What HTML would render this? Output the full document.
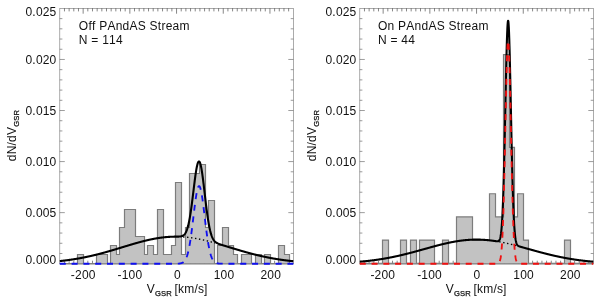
<!DOCTYPE html>
<html><head><meta charset="utf-8"><title>Velocity histograms</title>
<style>
html,body{margin:0;padding:0;background:#fff;}
svg{display:block;font-kerning:none;letter-spacing:0.2px;will-change:transform;font-family:"Liberation Sans",sans-serif;}
</style></head><body>
<svg width="599" height="300" viewBox="0 0 599 300">
<rect width="599" height="300" fill="#fff"/>
<g stroke="#000" stroke-width="0.6" fill="none" stroke-opacity="0.55"><rect x="59.80" y="8.40" width="233.50" height="255.30" fill="none"/><path d="M64.47 8.40 v3.00 M64.47 263.70 v-3.00 M69.14 8.40 v3.00 M69.14 263.70 v-3.00 M73.81 8.40 v3.00 M73.81 263.70 v-3.00 M78.48 8.40 v3.00 M78.48 263.70 v-3.00 M83.15 8.40 v5.30 M83.15 263.70 v-5.30 M87.82 8.40 v3.00 M87.82 263.70 v-3.00 M92.49 8.40 v3.00 M92.49 263.70 v-3.00 M97.16 8.40 v3.00 M97.16 263.70 v-3.00 M101.83 8.40 v3.00 M101.83 263.70 v-3.00 M106.50 8.40 v3.00 M106.50 263.70 v-3.00 M111.17 8.40 v3.00 M111.17 263.70 v-3.00 M115.84 8.40 v3.00 M115.84 263.70 v-3.00 M120.51 8.40 v3.00 M120.51 263.70 v-3.00 M125.18 8.40 v3.00 M125.18 263.70 v-3.00 M129.85 8.40 v5.30 M129.85 263.70 v-5.30 M134.52 8.40 v3.00 M134.52 263.70 v-3.00 M139.19 8.40 v3.00 M139.19 263.70 v-3.00 M143.86 8.40 v3.00 M143.86 263.70 v-3.00 M148.53 8.40 v3.00 M148.53 263.70 v-3.00 M153.20 8.40 v3.00 M153.20 263.70 v-3.00 M157.87 8.40 v3.00 M157.87 263.70 v-3.00 M162.54 8.40 v3.00 M162.54 263.70 v-3.00 M167.21 8.40 v3.00 M167.21 263.70 v-3.00 M171.88 8.40 v3.00 M171.88 263.70 v-3.00 M176.55 8.40 v5.30 M176.55 263.70 v-5.30 M181.22 8.40 v3.00 M181.22 263.70 v-3.00 M185.89 8.40 v3.00 M185.89 263.70 v-3.00 M190.56 8.40 v3.00 M190.56 263.70 v-3.00 M195.23 8.40 v3.00 M195.23 263.70 v-3.00 M199.90 8.40 v3.00 M199.90 263.70 v-3.00 M204.57 8.40 v3.00 M204.57 263.70 v-3.00 M209.24 8.40 v3.00 M209.24 263.70 v-3.00 M213.91 8.40 v3.00 M213.91 263.70 v-3.00 M218.58 8.40 v3.00 M218.58 263.70 v-3.00 M223.25 8.40 v5.30 M223.25 263.70 v-5.30 M227.92 8.40 v3.00 M227.92 263.70 v-3.00 M232.59 8.40 v3.00 M232.59 263.70 v-3.00 M237.26 8.40 v3.00 M237.26 263.70 v-3.00 M241.93 8.40 v3.00 M241.93 263.70 v-3.00 M246.60 8.40 v3.00 M246.60 263.70 v-3.00 M251.27 8.40 v3.00 M251.27 263.70 v-3.00 M255.94 8.40 v3.00 M255.94 263.70 v-3.00 M260.61 8.40 v3.00 M260.61 263.70 v-3.00 M265.28 8.40 v3.00 M265.28 263.70 v-3.00 M269.95 8.40 v5.30 M269.95 263.70 v-5.30 M274.62 8.40 v3.00 M274.62 263.70 v-3.00 M279.29 8.40 v3.00 M279.29 263.70 v-3.00 M283.96 8.40 v3.00 M283.96 263.70 v-3.00 M288.63 8.40 v3.00 M288.63 263.70 v-3.00" stroke-opacity="0.8"/><path d="M59.80 253.49 h2.60 M293.30 253.49 h-2.60 M59.80 243.28 h2.60 M293.30 243.28 h-2.60 M59.80 233.06 h2.60 M293.30 233.06 h-2.60 M59.80 222.85 h2.60 M293.30 222.85 h-2.60 M59.80 212.64 h5.00 M293.30 212.64 h-5.00 M59.80 202.43 h2.60 M293.30 202.43 h-2.60 M59.80 192.22 h2.60 M293.30 192.22 h-2.60 M59.80 182.00 h2.60 M293.30 182.00 h-2.60 M59.80 171.79 h2.60 M293.30 171.79 h-2.60 M59.80 161.58 h5.00 M293.30 161.58 h-5.00 M59.80 151.37 h2.60 M293.30 151.37 h-2.60 M59.80 141.16 h2.60 M293.30 141.16 h-2.60 M59.80 130.94 h2.60 M293.30 130.94 h-2.60 M59.80 120.73 h2.60 M293.30 120.73 h-2.60 M59.80 110.52 h5.00 M293.30 110.52 h-5.00 M59.80 100.31 h2.60 M293.30 100.31 h-2.60 M59.80 90.10 h2.60 M293.30 90.10 h-2.60 M59.80 79.88 h2.60 M293.30 79.88 h-2.60 M59.80 69.67 h2.60 M293.30 69.67 h-2.60 M59.80 59.46 h5.00 M293.30 59.46 h-5.00 M59.80 49.25 h2.60 M293.30 49.25 h-2.60 M59.80 39.04 h2.60 M293.30 39.04 h-2.60 M59.80 28.82 h2.60 M293.30 28.82 h-2.60 M59.80 18.61 h2.60 M293.30 18.61 h-2.60" stroke-opacity="0.65"/></g><path d="M77.50 263.70 L77.50 254.50 L83.50 254.50 L83.50 263.70Z M96.50 263.70 L96.50 254.50 L107.50 254.50 L107.50 263.70Z M110.50 263.70 L110.50 245.50 L116.50 245.50 L116.50 254.50 L119.50 254.50 L119.50 227.50 L124.50 227.50 L124.50 209.50 L135.50 209.50 L135.50 236.50 L144.50 236.50 L144.50 254.50 L147.50 254.50 L147.50 245.50 L153.50 245.50 L153.50 254.50 L157.50 254.50 L157.50 209.50 L163.50 209.50 L163.50 254.50 L171.50 254.50 L171.50 245.50 L175.50 245.50 L175.50 182.50 L181.50 182.50 L181.50 254.50 L185.50 254.50 L185.50 227.50 L189.50 227.50 L189.50 173.50 L199.50 173.50 L199.50 164.50 L205.50 164.50 L205.50 227.50 L208.50 227.50 L208.50 200.50 L214.50 200.50 L214.50 263.70Z M217.50 263.70 L217.50 245.50 L222.50 245.50 L222.50 227.50 L228.50 227.50 L228.50 245.50 L233.50 245.50 L233.50 254.50 L237.50 254.50 L237.50 263.70Z M241.50 263.70 L241.50 254.50 L251.50 254.50 L251.50 263.70Z M255.50 263.70 L255.50 254.50 L261.50 254.50 L261.50 263.70Z M264.50 263.70 L264.50 254.50 L270.50 254.50 L270.50 263.70Z M278.50 263.70 L278.50 245.50 L284.50 245.50 L284.50 254.50 L289.50 254.50 L289.50 263.70Z" fill="#c2c2c2" stroke="none"/><path d="M59.80 263.50 L77.50 263.50 L77.50 254.50 L83.50 254.50 L83.50 263.50 L96.50 263.50 L96.50 254.50 L107.50 254.50 L107.50 263.50 L110.50 263.50 L110.50 245.50 L116.50 245.50 L116.50 254.50 L119.50 254.50 L119.50 227.50 L124.50 227.50 L124.50 209.50 L135.50 209.50 L135.50 236.50 L144.50 236.50 L144.50 254.50 L147.50 254.50 L147.50 245.50 L153.50 245.50 L153.50 254.50 L157.50 254.50 L157.50 209.50 L163.50 209.50 L163.50 254.50 L171.50 254.50 L171.50 245.50 L175.50 245.50 L175.50 182.50 L181.50 182.50 L181.50 254.50 L185.50 254.50 L185.50 227.50 L189.50 227.50 L189.50 173.50 L199.50 173.50 L199.50 164.50 L205.50 164.50 L205.50 227.50 L208.50 227.50 L208.50 200.50 L214.50 200.50 L214.50 263.50 L217.50 263.50 L217.50 245.50 L222.50 245.50 L222.50 227.50 L228.50 227.50 L228.50 245.50 L233.50 245.50 L233.50 254.50 L237.50 254.50 L237.50 263.50 L241.50 263.50 L241.50 254.50 L251.50 254.50 L251.50 263.50 L255.50 263.50 L255.50 254.50 L261.50 254.50 L261.50 263.50 L264.50 263.50 L264.50 254.50 L270.50 254.50 L270.50 263.50 L278.50 263.50 L278.50 245.50 L284.50 245.50 L284.50 254.50 L289.50 254.50 L289.50 263.50 L293.30 263.50" fill="none" stroke="#7c7c7c" stroke-width="1.2" stroke-linejoin="miter"/><path d="M59.80 263.9 H293.30" stroke="#808080" stroke-width="1.1"/><path d="M59.80 261.08 L60.03 261.06 L60.27 261.03 L60.50 261.01 L60.73 260.98 L60.97 260.96 L61.20 260.93 L61.43 260.90 L61.67 260.88 L61.90 260.85 L62.13 260.83 L62.37 260.80 L62.60 260.77 L62.84 260.75 L63.07 260.72 L63.30 260.69 L63.54 260.66 L63.77 260.64 L64.00 260.61 L64.24 260.58 L64.47 260.55 L64.70 260.52 L64.94 260.49 L65.17 260.47 L65.40 260.44 L65.64 260.41 L65.87 260.38 L66.10 260.35 L66.34 260.32 L66.57 260.29 L66.80 260.26 L67.04 260.23 L67.27 260.20 L67.51 260.17 L67.74 260.13 L67.97 260.10 L68.21 260.07 L68.44 260.04 L68.67 260.01 L68.91 259.98 L69.14 259.94 L69.37 259.91 L69.61 259.88 L69.84 259.85 L70.07 259.81 L70.31 259.78 L70.54 259.75 L70.77 259.71 L71.01 259.68 L71.24 259.64 L71.47 259.61 L71.71 259.57 L71.94 259.54 L72.18 259.50 L72.41 259.47 L72.64 259.43 L72.88 259.40 L73.11 259.36 L73.34 259.33 L73.58 259.29 L73.81 259.25 L74.04 259.22 L74.28 259.18 L74.51 259.14 L74.74 259.10 L74.98 259.07 L75.21 259.03 L75.44 258.99 L75.68 258.95 L75.91 258.91 L76.14 258.87 L76.38 258.83 L76.61 258.80 L76.85 258.76 L77.08 258.72 L77.31 258.68 L77.55 258.64 L77.78 258.60 L78.01 258.56 L78.25 258.51 L78.48 258.47 L78.71 258.43 L78.95 258.39 L79.18 258.35 L79.41 258.31 L79.65 258.26 L79.88 258.22 L80.11 258.18 L80.35 258.14 L80.58 258.09 L80.81 258.05 L81.05 258.01 L81.28 257.96 L81.52 257.92 L81.75 257.87 L81.98 257.83 L82.22 257.78 L82.45 257.74 L82.68 257.69 L82.92 257.65 L83.15 257.60 L83.38 257.56 L83.62 257.51 L83.85 257.47 L84.08 257.42 L84.32 257.37 L84.55 257.33 L84.78 257.28 L85.02 257.23 L85.25 257.18 L85.48 257.13 L85.72 257.09 L85.95 257.04 L86.19 256.99 L86.42 256.94 L86.65 256.89 L86.89 256.84 L87.12 256.79 L87.35 256.74 L87.59 256.69 L87.82 256.64 L88.05 256.59 L88.29 256.54 L88.52 256.49 L88.75 256.44 L88.99 256.39 L89.22 256.34 L89.45 256.29 L89.69 256.23 L89.92 256.18 L90.16 256.13 L90.39 256.08 L90.62 256.02 L90.86 255.97 L91.09 255.92 L91.32 255.86 L91.56 255.81 L91.79 255.76 L92.02 255.70 L92.26 255.65 L92.49 255.59 L92.72 255.54 L92.96 255.48 L93.19 255.43 L93.42 255.37 L93.66 255.32 L93.89 255.26 L94.12 255.20 L94.36 255.15 L94.59 255.09 L94.82 255.04 L95.06 254.98 L95.29 254.92 L95.53 254.86 L95.76 254.81 L95.99 254.75 L96.23 254.69 L96.46 254.63 L96.69 254.57 L96.93 254.52 L97.16 254.46 L97.39 254.40 L97.63 254.34 L97.86 254.28 L98.09 254.22 L98.33 254.16 L98.56 254.10 L98.79 254.04 L99.03 253.98 L99.26 253.92 L99.50 253.86 L99.73 253.80 L99.96 253.74 L100.20 253.67 L100.43 253.61 L100.66 253.55 L100.90 253.49 L101.13 253.43 L101.36 253.36 L101.60 253.30 L101.83 253.24 L102.06 253.18 L102.30 253.11 L102.53 253.05 L102.76 252.99 L103.00 252.92 L103.23 252.86 L103.46 252.80 L103.70 252.73 L103.93 252.67 L104.16 252.60 L104.40 252.54 L104.63 252.48 L104.87 252.41 L105.10 252.35 L105.33 252.28 L105.57 252.22 L105.80 252.15 L106.03 252.08 L106.27 252.02 L106.50 251.95 L106.73 251.89 L106.97 251.82 L107.20 251.75 L107.43 251.69 L107.67 251.62 L107.90 251.55 L108.13 251.49 L108.37 251.42 L108.60 251.35 L108.84 251.29 L109.07 251.22 L109.30 251.15 L109.54 251.08 L109.77 251.02 L110.00 250.95 L110.24 250.88 L110.47 250.81 L110.70 250.74 L110.94 250.67 L111.17 250.61 L111.40 250.54 L111.64 250.47 L111.87 250.40 L112.10 250.33 L112.34 250.26 L112.57 250.19 L112.80 250.12 L113.04 250.05 L113.27 249.98 L113.50 249.92 L113.74 249.85 L113.97 249.78 L114.21 249.71 L114.44 249.64 L114.67 249.57 L114.91 249.50 L115.14 249.43 L115.37 249.36 L115.61 249.29 L115.84 249.22 L116.07 249.14 L116.31 249.07 L116.54 249.00 L116.77 248.93 L117.01 248.86 L117.24 248.79 L117.47 248.72 L117.71 248.65 L117.94 248.58 L118.17 248.51 L118.41 248.44 L118.64 248.37 L118.88 248.30 L119.11 248.22 L119.34 248.15 L119.58 248.08 L119.81 248.01 L120.04 247.94 L120.28 247.87 L120.51 247.80 L120.74 247.73 L120.98 247.66 L121.21 247.58 L121.44 247.51 L121.68 247.44 L121.91 247.37 L122.14 247.30 L122.38 247.23 L122.61 247.16 L122.84 247.08 L123.08 247.01 L123.31 246.94 L123.55 246.87 L123.78 246.80 L124.01 246.73 L124.25 246.66 L124.48 246.59 L124.71 246.51 L124.95 246.44 L125.18 246.37 L125.41 246.30 L125.65 246.23 L125.88 246.16 L126.11 246.09 L126.35 246.02 L126.58 245.95 L126.81 245.88 L127.05 245.81 L127.28 245.73 L127.52 245.66 L127.75 245.59 L127.98 245.52 L128.22 245.45 L128.45 245.38 L128.68 245.31 L128.92 245.24 L129.15 245.17 L129.38 245.10 L129.62 245.03 L129.85 244.96 L130.08 244.89 L130.32 244.82 L130.55 244.75 L130.78 244.68 L131.02 244.61 L131.25 244.55 L131.48 244.48 L131.72 244.41 L131.95 244.34 L132.19 244.27 L132.42 244.20 L132.65 244.13 L132.89 244.06 L133.12 244.00 L133.35 243.93 L133.59 243.86 L133.82 243.79 L134.05 243.72 L134.29 243.66 L134.52 243.59 L134.75 243.52 L134.99 243.46 L135.22 243.39 L135.45 243.32 L135.69 243.25 L135.92 243.19 L136.15 243.12 L136.39 243.06 L136.62 242.99 L136.86 242.92 L137.09 242.86 L137.32 242.79 L137.56 242.73 L137.79 242.66 L138.02 242.60 L138.26 242.53 L138.49 242.47 L138.72 242.41 L138.96 242.34 L139.19 242.28 L139.42 242.22 L139.66 242.15 L139.89 242.09 L140.12 242.03 L140.36 241.96 L140.59 241.90 L140.82 241.84 L141.06 241.78 L141.29 241.72 L141.53 241.65 L141.76 241.59 L141.99 241.53 L142.23 241.47 L142.46 241.41 L142.69 241.35 L142.93 241.29 L143.16 241.23 L143.39 241.17 L143.63 241.11 L143.86 241.05 L144.09 241.00 L144.33 240.94 L144.56 240.88 L144.79 240.82 L145.03 240.76 L145.26 240.71 L145.49 240.65 L145.73 240.59 L145.96 240.54 L146.19 240.48 L146.43 240.43 L146.66 240.37 L146.90 240.32 L147.13 240.26 L147.36 240.21 L147.60 240.15 L147.83 240.10 L148.06 240.05 L148.30 239.99 L148.53 239.94 L148.76 239.89 L149.00 239.84 L149.23 239.78 L149.46 239.73 L149.70 239.68 L149.93 239.63 L150.16 239.58 L150.40 239.53 L150.63 239.48 L150.87 239.43 L151.10 239.38 L151.33 239.33 L151.57 239.29 L151.80 239.24 L152.03 239.19 L152.27 239.14 L152.50 239.10 L152.73 239.05 L152.97 239.01 L153.20 238.96 L153.43 238.91 L153.67 238.87 L153.90 238.83 L154.13 238.78 L154.37 238.74 L154.60 238.69 L154.83 238.65 L155.07 238.61 L155.30 238.57 L155.53 238.53 L155.77 238.48 L156.00 238.44 L156.24 238.40 L156.47 238.36 L156.70 238.32 L156.94 238.28 L157.17 238.25 L157.40 238.21 L157.64 238.17 L157.87 238.13 L158.10 238.10 L158.34 238.06 L158.57 238.02 L158.80 237.99 L159.04 237.95 L159.27 237.92 L159.50 237.88 L159.74 237.85 L159.97 237.82 L160.20 237.78 L160.44 237.75 L160.67 237.72 L160.91 237.69 L161.14 237.65 L161.37 237.62 L161.61 237.59 L161.84 237.56 L162.07 237.53 L162.31 237.50 L162.54 237.48 L162.77 237.45 L163.01 237.42 L163.24 237.39 L163.47 237.37 L163.71 237.34 L163.94 237.32 L164.17 237.29 L164.41 237.27 L164.64 237.24 L164.88 237.22 L165.11 237.19 L165.34 237.17 L165.58 237.15 L165.81 237.13 L166.04 237.11 L166.28 237.08 L166.51 237.06 L166.74 237.04 L166.98 237.03 L167.21 237.01 L167.44 236.99 L167.68 236.97 L167.91 236.95 L168.14 236.94 L168.38 236.92 L168.61 236.90 L168.84 236.89 L169.08 236.87 L169.31 236.86 L169.55 236.84 L169.78 236.83 L170.01 236.82 L170.25 236.81 L170.48 236.79 L170.71 236.78 L170.95 236.77 L171.18 236.76 L171.41 236.75 L171.65 236.74 L171.88 236.73 L172.11 236.72 L172.35 236.72 L172.58 236.71 L172.81 236.70 L173.05 236.69 L173.28 236.69 L173.51 236.68 L173.75 236.68 L173.98 236.67 L174.22 236.67 L174.45 236.66 L174.68 236.66 L174.92 236.66 L175.15 236.65 L175.38 236.65 L175.62 236.65 L175.85 236.64 L176.08 236.64 L176.32 236.64 L176.55 236.64 L176.78 236.63 L177.02 236.63 L177.25 236.63 L177.48 236.62 L177.72 236.62 L177.95 236.61 L178.18 236.61 L178.42 236.60 L178.65 236.59 L178.88 236.58 L179.12 236.57 L179.35 236.56 L179.59 236.54 L179.82 236.52 L180.05 236.49 L180.29 236.47 L180.52 236.43 L180.75 236.40 L180.99 236.35 L181.22 236.30 L181.45 236.25 L181.69 236.18 L181.92 236.11 L182.15 236.02 L182.39 235.93 L182.62 235.82 L182.85 235.70 L183.09 235.57 L183.32 235.41 L183.56 235.25 L183.79 235.06 L184.02 234.85 L184.26 234.62 L184.49 234.36 L184.72 234.08 L184.96 233.77 L185.19 233.44 L185.42 233.07 L185.66 232.66 L185.89 232.22 L186.12 231.74 L186.36 231.22 L186.59 230.66 L186.82 230.06 L187.06 229.41 L187.29 228.71 L187.52 227.96 L187.76 227.16 L187.99 226.30 L188.23 225.39 L188.46 224.43 L188.69 223.40 L188.93 222.32 L189.16 221.18 L189.39 219.98 L189.63 218.71 L189.86 217.39 L190.09 216.01 L190.33 214.58 L190.56 213.08 L190.79 211.53 L191.03 209.93 L191.26 208.28 L191.49 206.58 L191.73 204.84 L191.96 203.05 L192.19 201.23 L192.43 199.38 L192.66 197.50 L192.89 195.61 L193.13 193.69 L193.36 191.77 L193.60 189.85 L193.83 187.93 L194.06 186.02 L194.30 184.13 L194.53 182.27 L194.76 180.44 L195.00 178.65 L195.23 176.91 L195.46 175.23 L195.70 173.62 L195.93 172.07 L196.16 170.61 L196.40 169.24 L196.63 167.95 L196.86 166.77 L197.10 165.69 L197.33 164.73 L197.56 163.88 L197.80 163.15 L198.03 162.55 L198.27 162.08 L198.50 161.74 L198.73 161.53 L198.97 161.45 L199.20 161.51 L199.43 161.71 L199.67 162.03 L199.90 162.50 L200.13 163.09 L200.37 163.81 L200.60 164.65 L200.83 165.62 L201.07 166.70 L201.30 167.89 L201.53 169.18 L201.77 170.58 L202.00 172.06 L202.24 173.63 L202.47 175.28 L202.70 177.00 L202.94 178.79 L203.17 180.63 L203.40 182.52 L203.64 184.44 L203.87 186.40 L204.10 188.39 L204.34 190.39 L204.57 192.40 L204.80 194.42 L205.04 196.43 L205.27 198.43 L205.50 200.42 L205.74 202.38 L205.97 204.32 L206.20 206.22 L206.44 208.09 L206.67 209.91 L206.91 211.69 L207.14 213.43 L207.37 215.11 L207.61 216.73 L207.84 218.31 L208.07 219.82 L208.31 221.28 L208.54 222.67 L208.77 224.01 L209.01 225.29 L209.24 226.51 L209.47 227.67 L209.71 228.77 L209.94 229.81 L210.17 230.80 L210.41 231.73 L210.64 232.61 L210.87 233.43 L211.11 234.21 L211.34 234.93 L211.57 235.62 L211.81 236.25 L212.04 236.85 L212.28 237.40 L212.51 237.92 L212.74 238.40 L212.98 238.85 L213.21 239.27 L213.44 239.65 L213.68 240.01 L213.91 240.35 L214.14 240.66 L214.38 240.94 L214.61 241.21 L214.84 241.46 L215.08 241.68 L215.31 241.90 L215.54 242.10 L215.78 242.28 L216.01 242.46 L216.25 242.62 L216.48 242.77 L216.71 242.91 L216.95 243.05 L217.18 243.17 L217.41 243.29 L217.65 243.41 L217.88 243.52 L218.11 243.62 L218.35 243.72 L218.58 243.82 L218.81 243.91 L219.05 244.00 L219.28 244.09 L219.51 244.17 L219.75 244.25 L219.98 244.33 L220.21 244.41 L220.45 244.49 L220.68 244.57 L220.92 244.65 L221.15 244.72 L221.38 244.79 L221.62 244.87 L221.85 244.94 L222.08 245.02 L222.32 245.09 L222.55 245.16 L222.78 245.23 L223.02 245.30 L223.25 245.38 L223.48 245.45 L223.72 245.52 L223.95 245.59 L224.18 245.66 L224.42 245.73 L224.65 245.80 L224.88 245.87 L225.12 245.95 L225.35 246.02 L225.58 246.09 L225.82 246.16 L226.05 246.23 L226.29 246.30 L226.52 246.37 L226.75 246.44 L226.99 246.51 L227.22 246.59 L227.45 246.66 L227.69 246.73 L227.92 246.80 L228.15 246.87 L228.39 246.94 L228.62 247.01 L228.85 247.08 L229.09 247.16 L229.32 247.23 L229.55 247.30 L229.79 247.37 L230.02 247.44 L230.25 247.51 L230.49 247.58 L230.72 247.66 L230.96 247.73 L231.19 247.80 L231.42 247.87 L231.66 247.94 L231.89 248.01 L232.12 248.08 L232.36 248.15 L232.59 248.22 L232.82 248.30 L233.06 248.37 L233.29 248.44 L233.52 248.51 L233.76 248.58 L233.99 248.65 L234.22 248.72 L234.46 248.79 L234.69 248.86 L234.93 248.93 L235.16 249.00 L235.39 249.07 L235.63 249.14 L235.86 249.22 L236.09 249.29 L236.33 249.36 L236.56 249.43 L236.79 249.50 L237.03 249.57 L237.26 249.64 L237.49 249.71 L237.73 249.78 L237.96 249.85 L238.19 249.92 L238.43 249.98 L238.66 250.05 L238.89 250.12 L239.13 250.19 L239.36 250.26 L239.60 250.33 L239.83 250.40 L240.06 250.47 L240.30 250.54 L240.53 250.61 L240.76 250.67 L241.00 250.74 L241.23 250.81 L241.46 250.88 L241.70 250.95 L241.93 251.02 L242.16 251.08 L242.40 251.15 L242.63 251.22 L242.86 251.29 L243.10 251.35 L243.33 251.42 L243.56 251.49 L243.80 251.55 L244.03 251.62 L244.26 251.69 L244.50 251.75 L244.73 251.82 L244.97 251.89 L245.20 251.95 L245.43 252.02 L245.67 252.08 L245.90 252.15 L246.13 252.22 L246.37 252.28 L246.60 252.35 L246.83 252.41 L247.07 252.48 L247.30 252.54 L247.53 252.60 L247.77 252.67 L248.00 252.73 L248.23 252.80 L248.47 252.86 L248.70 252.92 L248.94 252.99 L249.17 253.05 L249.40 253.11 L249.64 253.18 L249.87 253.24 L250.10 253.30 L250.34 253.36 L250.57 253.43 L250.80 253.49 L251.04 253.55 L251.27 253.61 L251.50 253.67 L251.74 253.74 L251.97 253.80 L252.20 253.86 L252.44 253.92 L252.67 253.98 L252.90 254.04 L253.14 254.10 L253.37 254.16 L253.61 254.22 L253.84 254.28 L254.07 254.34 L254.31 254.40 L254.54 254.46 L254.77 254.52 L255.01 254.57 L255.24 254.63 L255.47 254.69 L255.71 254.75 L255.94 254.81 L256.17 254.86 L256.41 254.92 L256.64 254.98 L256.87 255.04 L257.11 255.09 L257.34 255.15 L257.57 255.20 L257.81 255.26 L258.04 255.32 L258.28 255.37 L258.51 255.43 L258.74 255.48 L258.98 255.54 L259.21 255.59 L259.44 255.65 L259.68 255.70 L259.91 255.76 L260.14 255.81 L260.38 255.86 L260.61 255.92 L260.84 255.97 L261.08 256.02 L261.31 256.08 L261.54 256.13 L261.78 256.18 L262.01 256.23 L262.24 256.29 L262.48 256.34 L262.71 256.39 L262.94 256.44 L263.18 256.49 L263.41 256.54 L263.65 256.59 L263.88 256.64 L264.11 256.69 L264.35 256.74 L264.58 256.79 L264.81 256.84 L265.05 256.89 L265.28 256.94 L265.51 256.99 L265.75 257.04 L265.98 257.09 L266.21 257.13 L266.45 257.18 L266.68 257.23 L266.91 257.28 L267.15 257.33 L267.38 257.37 L267.62 257.42 L267.85 257.47 L268.08 257.51 L268.32 257.56 L268.55 257.60 L268.78 257.65 L269.02 257.69 L269.25 257.74 L269.48 257.78 L269.72 257.83 L269.95 257.87 L270.18 257.92 L270.42 257.96 L270.65 258.01 L270.88 258.05 L271.12 258.09 L271.35 258.14 L271.58 258.18 L271.82 258.22 L272.05 258.26 L272.29 258.31 L272.52 258.35 L272.75 258.39 L272.99 258.43 L273.22 258.47 L273.45 258.51 L273.69 258.56 L273.92 258.60 L274.15 258.64 L274.39 258.68 L274.62 258.72 L274.85 258.76 L275.09 258.80 L275.32 258.83 L275.55 258.87 L275.79 258.91 L276.02 258.95 L276.25 258.99 L276.49 259.03 L276.72 259.07 L276.95 259.10 L277.19 259.14 L277.42 259.18 L277.66 259.22 L277.89 259.25 L278.12 259.29 L278.36 259.33 L278.59 259.36 L278.82 259.40 L279.06 259.43 L279.29 259.47 L279.52 259.50 L279.76 259.54 L279.99 259.57 L280.22 259.61 L280.46 259.64 L280.69 259.68 L280.92 259.71 L281.16 259.75 L281.39 259.78 L281.62 259.81 L281.86 259.85 L282.09 259.88 L282.33 259.91 L282.56 259.94 L282.79 259.98 L283.03 260.01 L283.26 260.04 L283.49 260.07 L283.73 260.10 L283.96 260.13 L284.19 260.17 L284.43 260.20 L284.66 260.23 L284.89 260.26 L285.13 260.29 L285.36 260.32 L285.59 260.35 L285.83 260.38 L286.06 260.41 L286.30 260.44 L286.53 260.47 L286.76 260.49 L287.00 260.52 L287.23 260.55 L287.46 260.58 L287.70 260.61 L287.93 260.64 L288.16 260.66 L288.40 260.69 L288.63 260.72 L288.86 260.75 L289.10 260.77 L289.33 260.80 L289.56 260.83 L289.80 260.85 L290.03 260.88 L290.26 260.90 L290.50 260.93 L290.73 260.96 L290.97 260.98 L291.20 261.01 L291.43 261.03 L291.67 261.06 L291.90 261.08 L292.13 261.11 L292.37 261.13 L292.60 261.15 L292.83 261.18 L293.07 261.20 L293.30 261.23" fill="none" stroke="#000" stroke-width="2.1" stroke-linejoin="round"/><path d="M183.09 236.90 L183.32 236.92 L183.56 236.94 L183.79 236.95 L184.02 236.97 L184.26 236.99 L184.49 237.01 L184.72 237.03 L184.96 237.04 L185.19 237.06 L185.42 237.08 L185.66 237.11 L185.89 237.13 L186.12 237.15 L186.36 237.17 L186.59 237.19 L186.82 237.22 L187.06 237.24 L187.29 237.27 L187.52 237.29 L187.76 237.32 L187.99 237.34 L188.23 237.37 L188.46 237.39 L188.69 237.42 L188.93 237.45 L189.16 237.48 L189.39 237.50 L189.63 237.53 L189.86 237.56 L190.09 237.59 L190.33 237.62 L190.56 237.65 L190.79 237.69 L191.03 237.72 L191.26 237.75 L191.49 237.78 L191.73 237.82 L191.96 237.85 L192.19 237.88 L192.43 237.92 L192.66 237.95 L192.89 237.99 L193.13 238.02 L193.36 238.06 L193.60 238.10 L193.83 238.13 L194.06 238.17 L194.30 238.21 L194.53 238.25 L194.76 238.28 L195.00 238.32 L195.23 238.36 L195.46 238.40 L195.70 238.44 L195.93 238.48 L196.16 238.53 L196.40 238.57 L196.63 238.61 L196.86 238.65 L197.10 238.69 L197.33 238.74 L197.56 238.78 L197.80 238.83 L198.03 238.87 L198.27 238.91 L198.50 238.96 L198.73 239.01 L198.97 239.05 L199.20 239.10 L199.43 239.14 L199.67 239.19 L199.90 239.24 L200.13 239.29 L200.37 239.33 L200.60 239.38 L200.83 239.43 L201.07 239.48 L201.30 239.53 L201.53 239.58 L201.77 239.63 L202.00 239.68 L202.24 239.73 L202.47 239.78 L202.70 239.84 L202.94 239.89 L203.17 239.94 L203.40 239.99 L203.64 240.05 L203.87 240.10 L204.10 240.15 L204.34 240.21 L204.57 240.26 L204.80 240.32 L205.04 240.37 L205.27 240.43 L205.50 240.48 L205.74 240.54 L205.97 240.59 L206.20 240.65 L206.44 240.71 L206.67 240.76 L206.91 240.82 L207.14 240.88 L207.37 240.94 L207.61 241.00 L207.84 241.05 L208.07 241.11 L208.31 241.17 L208.54 241.23 L208.77 241.29 L209.01 241.35 L209.24 241.41 L209.47 241.47 L209.71 241.53 L209.94 241.59 L210.17 241.65 L210.41 241.72 L210.64 241.78 L210.87 241.84 L211.11 241.90 L211.34 241.96 L211.57 242.03 L211.81 242.09 L212.04 242.15 L212.28 242.22 L212.51 242.28 L212.74 242.34 L212.98 242.41 L213.21 242.47 L213.44 242.53 L213.68 242.60 L213.91 242.66 L214.14 242.73 L214.38 242.79 L214.61 242.86 L214.84 242.92 L215.08 242.99" fill="none" stroke="#000" stroke-width="1.4" stroke-dasharray="1.4 2.6"/><path d="M59.80 263.70 L60.03 263.70 L60.27 263.70 L60.50 263.70 L60.73 263.70 L60.97 263.70 L61.20 263.70 L61.43 263.70 L61.67 263.70 L61.90 263.70 L62.13 263.70 L62.37 263.70 L62.60 263.70 L62.84 263.70 L63.07 263.70 L63.30 263.70 L63.54 263.70 L63.77 263.70 L64.00 263.70 L64.24 263.70 L64.47 263.70 L64.70 263.70 L64.94 263.70 L65.17 263.70 L65.40 263.70 L65.64 263.70 L65.87 263.70 L66.10 263.70 L66.34 263.70 L66.57 263.70 L66.80 263.70 L67.04 263.70 L67.27 263.70 L67.51 263.70 L67.74 263.70 L67.97 263.70 L68.21 263.70 L68.44 263.70 L68.67 263.70 L68.91 263.70 L69.14 263.70 L69.37 263.70 L69.61 263.70 L69.84 263.70 L70.07 263.70 L70.31 263.70 L70.54 263.70 L70.77 263.70 L71.01 263.70 L71.24 263.70 L71.47 263.70 L71.71 263.70 L71.94 263.70 L72.18 263.70 L72.41 263.70 L72.64 263.70 L72.88 263.70 L73.11 263.70 L73.34 263.70 L73.58 263.70 L73.81 263.70 L74.04 263.70 L74.28 263.70 L74.51 263.70 L74.74 263.70 L74.98 263.70 L75.21 263.70 L75.44 263.70 L75.68 263.70 L75.91 263.70 L76.14 263.70 L76.38 263.70 L76.61 263.70 L76.85 263.70 L77.08 263.70 L77.31 263.70 L77.55 263.70 L77.78 263.70 L78.01 263.70 L78.25 263.70 L78.48 263.70 L78.71 263.70 L78.95 263.70 L79.18 263.70 L79.41 263.70 L79.65 263.70 L79.88 263.70 L80.11 263.70 L80.35 263.70 L80.58 263.70 L80.81 263.70 L81.05 263.70 L81.28 263.70 L81.52 263.70 L81.75 263.70 L81.98 263.70 L82.22 263.70 L82.45 263.70 L82.68 263.70 L82.92 263.70 L83.15 263.70 L83.38 263.70 L83.62 263.70 L83.85 263.70 L84.08 263.70 L84.32 263.70 L84.55 263.70 L84.78 263.70 L85.02 263.70 L85.25 263.70 L85.48 263.70 L85.72 263.70 L85.95 263.70 L86.19 263.70 L86.42 263.70 L86.65 263.70 L86.89 263.70 L87.12 263.70 L87.35 263.70 L87.59 263.70 L87.82 263.70 L88.05 263.70 L88.29 263.70 L88.52 263.70 L88.75 263.70 L88.99 263.70 L89.22 263.70 L89.45 263.70 L89.69 263.70 L89.92 263.70 L90.16 263.70 L90.39 263.70 L90.62 263.70 L90.86 263.70 L91.09 263.70 L91.32 263.70 L91.56 263.70 L91.79 263.70 L92.02 263.70 L92.26 263.70 L92.49 263.70 L92.72 263.70 L92.96 263.70 L93.19 263.70 L93.42 263.70 L93.66 263.70 L93.89 263.70 L94.12 263.70 L94.36 263.70 L94.59 263.70 L94.82 263.70 L95.06 263.70 L95.29 263.70 L95.53 263.70 L95.76 263.70 L95.99 263.70 L96.23 263.70 L96.46 263.70 L96.69 263.70 L96.93 263.70 L97.16 263.70 L97.39 263.70 L97.63 263.70 L97.86 263.70 L98.09 263.70 L98.33 263.70 L98.56 263.70 L98.79 263.70 L99.03 263.70 L99.26 263.70 L99.50 263.70 L99.73 263.70 L99.96 263.70 L100.20 263.70 L100.43 263.70 L100.66 263.70 L100.90 263.70 L101.13 263.70 L101.36 263.70 L101.60 263.70 L101.83 263.70 L102.06 263.70 L102.30 263.70 L102.53 263.70 L102.76 263.70 L103.00 263.70 L103.23 263.70 L103.46 263.70 L103.70 263.70 L103.93 263.70 L104.16 263.70 L104.40 263.70 L104.63 263.70 L104.87 263.70 L105.10 263.70 L105.33 263.70 L105.57 263.70 L105.80 263.70 L106.03 263.70 L106.27 263.70 L106.50 263.70 L106.73 263.70 L106.97 263.70 L107.20 263.70 L107.43 263.70 L107.67 263.70 L107.90 263.70 L108.13 263.70 L108.37 263.70 L108.60 263.70 L108.84 263.70 L109.07 263.70 L109.30 263.70 L109.54 263.70 L109.77 263.70 L110.00 263.70 L110.24 263.70 L110.47 263.70 L110.70 263.70 L110.94 263.70 L111.17 263.70 L111.40 263.70 L111.64 263.70 L111.87 263.70 L112.10 263.70 L112.34 263.70 L112.57 263.70 L112.80 263.70 L113.04 263.70 L113.27 263.70 L113.50 263.70 L113.74 263.70 L113.97 263.70 L114.21 263.70 L114.44 263.70 L114.67 263.70 L114.91 263.70 L115.14 263.70 L115.37 263.70 L115.61 263.70 L115.84 263.70 L116.07 263.70 L116.31 263.70 L116.54 263.70 L116.77 263.70 L117.01 263.70 L117.24 263.70 L117.47 263.70 L117.71 263.70 L117.94 263.70 L118.17 263.70 L118.41 263.70 L118.64 263.70 L118.88 263.70 L119.11 263.70 L119.34 263.70 L119.58 263.70 L119.81 263.70 L120.04 263.70 L120.28 263.70 L120.51 263.70 L120.74 263.70 L120.98 263.70 L121.21 263.70 L121.44 263.70 L121.68 263.70 L121.91 263.70 L122.14 263.70 L122.38 263.70 L122.61 263.70 L122.84 263.70 L123.08 263.70 L123.31 263.70 L123.55 263.70 L123.78 263.70 L124.01 263.70 L124.25 263.70 L124.48 263.70 L124.71 263.70 L124.95 263.70 L125.18 263.70 L125.41 263.70 L125.65 263.70 L125.88 263.70 L126.11 263.70 L126.35 263.70 L126.58 263.70 L126.81 263.70 L127.05 263.70 L127.28 263.70 L127.52 263.70 L127.75 263.70 L127.98 263.70 L128.22 263.70 L128.45 263.70 L128.68 263.70 L128.92 263.70 L129.15 263.70 L129.38 263.70 L129.62 263.70 L129.85 263.70 L130.08 263.70 L130.32 263.70 L130.55 263.70 L130.78 263.70 L131.02 263.70 L131.25 263.70 L131.48 263.70 L131.72 263.70 L131.95 263.70 L132.19 263.70 L132.42 263.70 L132.65 263.70 L132.89 263.70 L133.12 263.70 L133.35 263.70 L133.59 263.70 L133.82 263.70 L134.05 263.70 L134.29 263.70 L134.52 263.70 L134.75 263.70 L134.99 263.70 L135.22 263.70 L135.45 263.70 L135.69 263.70 L135.92 263.70 L136.15 263.70 L136.39 263.70 L136.62 263.70 L136.86 263.70 L137.09 263.70 L137.32 263.70 L137.56 263.70 L137.79 263.70 L138.02 263.70 L138.26 263.70 L138.49 263.70 L138.72 263.70 L138.96 263.70 L139.19 263.70 L139.42 263.70 L139.66 263.70 L139.89 263.70 L140.12 263.70 L140.36 263.70 L140.59 263.70 L140.82 263.70 L141.06 263.70 L141.29 263.70 L141.53 263.70 L141.76 263.70 L141.99 263.70 L142.23 263.70 L142.46 263.70 L142.69 263.70 L142.93 263.70 L143.16 263.70 L143.39 263.70 L143.63 263.70 L143.86 263.70 L144.09 263.70 L144.33 263.70 L144.56 263.70 L144.79 263.70 L145.03 263.70 L145.26 263.70 L145.49 263.70 L145.73 263.70 L145.96 263.70 L146.19 263.70 L146.43 263.70 L146.66 263.70 L146.90 263.70 L147.13 263.70 L147.36 263.70 L147.60 263.70 L147.83 263.70 L148.06 263.70 L148.30 263.70 L148.53 263.70 L148.76 263.70 L149.00 263.70 L149.23 263.70 L149.46 263.70 L149.70 263.70 L149.93 263.70 L150.16 263.70 L150.40 263.70 L150.63 263.70 L150.87 263.70 L151.10 263.70 L151.33 263.70 L151.57 263.70 L151.80 263.70 L152.03 263.70 L152.27 263.70 L152.50 263.70 L152.73 263.70 L152.97 263.70 L153.20 263.70 L153.43 263.70 L153.67 263.70 L153.90 263.70 L154.13 263.70 L154.37 263.70 L154.60 263.70 L154.83 263.70 L155.07 263.70 L155.30 263.70 L155.53 263.70 L155.77 263.70 L156.00 263.70 L156.24 263.70 L156.47 263.70 L156.70 263.70 L156.94 263.70 L157.17 263.70 L157.40 263.70 L157.64 263.70 L157.87 263.70 L158.10 263.70 L158.34 263.70 L158.57 263.70 L158.80 263.70 L159.04 263.70 L159.27 263.70 L159.50 263.70 L159.74 263.70 L159.97 263.70 L160.20 263.70 L160.44 263.70 L160.67 263.70 L160.91 263.70 L161.14 263.70 L161.37 263.70 L161.61 263.70 L161.84 263.70 L162.07 263.70 L162.31 263.70 L162.54 263.70 L162.77 263.70 L163.01 263.70 L163.24 263.70 L163.47 263.70 L163.71 263.70 L163.94 263.70 L164.17 263.70 L164.41 263.70 L164.64 263.70 L164.88 263.70 L165.11 263.70 L165.34 263.70 L165.58 263.70 L165.81 263.70 L166.04 263.70 L166.28 263.70 L166.51 263.70 L166.74 263.70 L166.98 263.70 L167.21 263.70 L167.44 263.70 L167.68 263.70 L167.91 263.70 L168.14 263.70 L168.38 263.70 L168.61 263.70 L168.84 263.70 L169.08 263.70 L169.31 263.70 L169.55 263.70 L169.78 263.70 L170.01 263.70 L170.25 263.70 L170.48 263.70 L170.71 263.70 L170.95 263.70 L171.18 263.70 L171.41 263.70 L171.65 263.70 L171.88 263.70 L172.11 263.70 L172.35 263.70 L172.58 263.70 L172.81 263.70 L173.05 263.70 L173.28 263.70 L173.51 263.70 L173.75 263.70 L173.98 263.70 L174.22 263.70 L174.45 263.69 L174.68 263.69 L174.92 263.69 L175.15 263.69 L175.38 263.69 L175.62 263.69 L175.85 263.69 L176.08 263.68 L176.32 263.68 L176.55 263.68 L176.78 263.67 L177.02 263.67 L177.25 263.66 L177.48 263.65 L177.72 263.64 L177.95 263.64 L178.18 263.62 L178.42 263.61 L178.65 263.60 L178.88 263.58 L179.12 263.56 L179.35 263.54 L179.59 263.51 L179.82 263.49 L180.05 263.45 L180.29 263.42 L180.52 263.37 L180.75 263.33 L180.99 263.27 L181.22 263.21 L181.45 263.14 L181.69 263.06 L181.92 262.98 L182.15 262.88 L182.39 262.77 L182.62 262.65 L182.85 262.51 L183.09 262.36 L183.32 262.20 L183.56 262.01 L183.79 261.81 L184.02 261.58 L184.26 261.33 L184.49 261.06 L184.72 260.76 L184.96 260.43 L185.19 260.07 L185.42 259.68 L185.66 259.26 L185.89 258.79 L186.12 258.29 L186.36 257.75 L186.59 257.17 L186.82 256.54 L187.06 255.87 L187.29 255.14 L187.52 254.37 L187.76 253.54 L187.99 252.66 L188.23 251.72 L188.46 250.73 L188.69 249.68 L188.93 248.57 L189.16 247.40 L189.39 246.17 L189.63 244.88 L189.86 243.53 L190.09 242.12 L190.33 240.65 L190.56 239.13 L190.79 237.55 L191.03 235.92 L191.26 234.23 L191.49 232.50 L191.73 230.72 L191.96 228.90 L192.19 227.05 L192.43 225.16 L192.66 223.25 L192.89 221.32 L193.13 219.37 L193.36 217.41 L193.60 215.45 L193.83 213.49 L194.06 211.55 L194.30 209.62 L194.53 207.72 L194.76 205.85 L195.00 204.03 L195.23 202.25 L195.46 200.53 L195.70 198.87 L195.93 197.29 L196.16 195.79 L196.40 194.37 L196.63 193.04 L196.86 191.82 L197.10 190.70 L197.33 189.69 L197.56 188.80 L197.80 188.03 L198.03 187.38 L198.27 186.86 L198.50 186.48 L198.73 186.22 L198.97 186.10 L199.20 186.11 L199.43 186.26 L199.67 186.54 L199.90 186.96 L200.13 187.50 L200.37 188.17 L200.60 188.97 L200.83 189.88 L201.07 190.91 L201.30 192.06 L201.53 193.30 L201.77 194.64 L202.00 196.08 L202.24 197.60 L202.47 199.20 L202.70 200.87 L202.94 202.60 L203.17 204.39 L203.40 206.22 L203.64 208.10 L203.87 210.00 L204.10 211.94 L204.34 213.88 L204.57 215.84 L204.80 217.80 L205.04 219.76 L205.27 221.71 L205.50 223.64 L205.74 225.54 L205.97 227.42 L206.20 229.27 L206.44 231.08 L206.67 232.85 L206.91 234.57 L207.14 236.25 L207.37 237.87 L207.61 239.44 L207.84 240.95 L208.07 242.41 L208.31 243.81 L208.54 245.14 L208.77 246.42 L209.01 247.64 L209.24 248.80 L209.47 249.90 L209.71 250.93 L209.94 251.92 L210.17 252.84 L210.41 253.71 L210.64 254.53 L210.87 255.29 L211.11 256.01 L211.34 256.67 L211.57 257.29 L211.81 257.86 L212.04 258.40 L212.28 258.89 L212.51 259.34 L212.74 259.76 L212.98 260.15 L213.21 260.50 L213.44 260.82 L213.68 261.11 L213.91 261.38 L214.14 261.63 L214.38 261.85 L214.61 262.05 L214.84 262.23 L215.08 262.39 L215.31 262.54 L215.54 262.67 L215.78 262.79 L216.01 262.90 L216.25 263.00 L216.48 263.08 L216.71 263.16 L216.95 263.22 L217.18 263.28 L217.41 263.34 L217.65 263.38 L217.88 263.42 L218.11 263.46 L218.35 263.49 L218.58 263.52 L218.81 263.54 L219.05 263.57 L219.28 263.58 L219.51 263.60 L219.75 263.61 L219.98 263.63 L220.21 263.64 L220.45 263.65 L220.68 263.65 L220.92 263.66 L221.15 263.67 L221.38 263.67 L221.62 263.68 L221.85 263.68 L222.08 263.68 L222.32 263.69 L222.55 263.69 L222.78 263.69 L223.02 263.69 L223.25 263.69 L223.48 263.69 L223.72 263.70 L223.95 263.70 L224.18 263.70 L224.42 263.70 L224.65 263.70 L224.88 263.70 L225.12 263.70 L225.35 263.70 L225.58 263.70 L225.82 263.70 L226.05 263.70 L226.29 263.70 L226.52 263.70 L226.75 263.70 L226.99 263.70 L227.22 263.70 L227.45 263.70 L227.69 263.70 L227.92 263.70 L228.15 263.70 L228.39 263.70 L228.62 263.70 L228.85 263.70 L229.09 263.70 L229.32 263.70 L229.55 263.70 L229.79 263.70 L230.02 263.70 L230.25 263.70 L230.49 263.70 L230.72 263.70 L230.96 263.70 L231.19 263.70 L231.42 263.70 L231.66 263.70 L231.89 263.70 L232.12 263.70 L232.36 263.70 L232.59 263.70 L232.82 263.70 L233.06 263.70 L233.29 263.70 L233.52 263.70 L233.76 263.70 L233.99 263.70 L234.22 263.70 L234.46 263.70 L234.69 263.70 L234.93 263.70 L235.16 263.70 L235.39 263.70 L235.63 263.70 L235.86 263.70 L236.09 263.70 L236.33 263.70 L236.56 263.70 L236.79 263.70 L237.03 263.70 L237.26 263.70 L237.49 263.70 L237.73 263.70 L237.96 263.70 L238.19 263.70 L238.43 263.70 L238.66 263.70 L238.89 263.70 L239.13 263.70 L239.36 263.70 L239.60 263.70 L239.83 263.70 L240.06 263.70 L240.30 263.70 L240.53 263.70 L240.76 263.70 L241.00 263.70 L241.23 263.70 L241.46 263.70 L241.70 263.70 L241.93 263.70 L242.16 263.70 L242.40 263.70 L242.63 263.70 L242.86 263.70 L243.10 263.70 L243.33 263.70 L243.56 263.70 L243.80 263.70 L244.03 263.70 L244.26 263.70 L244.50 263.70 L244.73 263.70 L244.97 263.70 L245.20 263.70 L245.43 263.70 L245.67 263.70 L245.90 263.70 L246.13 263.70 L246.37 263.70 L246.60 263.70 L246.83 263.70 L247.07 263.70 L247.30 263.70 L247.53 263.70 L247.77 263.70 L248.00 263.70 L248.23 263.70 L248.47 263.70 L248.70 263.70 L248.94 263.70 L249.17 263.70 L249.40 263.70 L249.64 263.70 L249.87 263.70 L250.10 263.70 L250.34 263.70 L250.57 263.70 L250.80 263.70 L251.04 263.70 L251.27 263.70 L251.50 263.70 L251.74 263.70 L251.97 263.70 L252.20 263.70 L252.44 263.70 L252.67 263.70 L252.90 263.70 L253.14 263.70 L253.37 263.70 L253.61 263.70 L253.84 263.70 L254.07 263.70 L254.31 263.70 L254.54 263.70 L254.77 263.70 L255.01 263.70 L255.24 263.70 L255.47 263.70 L255.71 263.70 L255.94 263.70 L256.17 263.70 L256.41 263.70 L256.64 263.70 L256.87 263.70 L257.11 263.70 L257.34 263.70 L257.57 263.70 L257.81 263.70 L258.04 263.70 L258.28 263.70 L258.51 263.70 L258.74 263.70 L258.98 263.70 L259.21 263.70 L259.44 263.70 L259.68 263.70 L259.91 263.70 L260.14 263.70 L260.38 263.70 L260.61 263.70 L260.84 263.70 L261.08 263.70 L261.31 263.70 L261.54 263.70 L261.78 263.70 L262.01 263.70 L262.24 263.70 L262.48 263.70 L262.71 263.70 L262.94 263.70 L263.18 263.70 L263.41 263.70 L263.65 263.70 L263.88 263.70 L264.11 263.70 L264.35 263.70 L264.58 263.70 L264.81 263.70 L265.05 263.70 L265.28 263.70 L265.51 263.70 L265.75 263.70 L265.98 263.70 L266.21 263.70 L266.45 263.70 L266.68 263.70 L266.91 263.70 L267.15 263.70 L267.38 263.70 L267.62 263.70 L267.85 263.70 L268.08 263.70 L268.32 263.70 L268.55 263.70 L268.78 263.70 L269.02 263.70 L269.25 263.70 L269.48 263.70 L269.72 263.70 L269.95 263.70 L270.18 263.70 L270.42 263.70 L270.65 263.70 L270.88 263.70 L271.12 263.70 L271.35 263.70 L271.58 263.70 L271.82 263.70 L272.05 263.70 L272.29 263.70 L272.52 263.70 L272.75 263.70 L272.99 263.70 L273.22 263.70 L273.45 263.70 L273.69 263.70 L273.92 263.70 L274.15 263.70 L274.39 263.70 L274.62 263.70 L274.85 263.70 L275.09 263.70 L275.32 263.70 L275.55 263.70 L275.79 263.70 L276.02 263.70 L276.25 263.70 L276.49 263.70 L276.72 263.70 L276.95 263.70 L277.19 263.70 L277.42 263.70 L277.66 263.70 L277.89 263.70 L278.12 263.70 L278.36 263.70 L278.59 263.70 L278.82 263.70 L279.06 263.70 L279.29 263.70 L279.52 263.70 L279.76 263.70 L279.99 263.70 L280.22 263.70 L280.46 263.70 L280.69 263.70 L280.92 263.70 L281.16 263.70 L281.39 263.70 L281.62 263.70 L281.86 263.70 L282.09 263.70 L282.33 263.70 L282.56 263.70 L282.79 263.70 L283.03 263.70 L283.26 263.70 L283.49 263.70 L283.73 263.70 L283.96 263.70 L284.19 263.70 L284.43 263.70 L284.66 263.70 L284.89 263.70 L285.13 263.70 L285.36 263.70 L285.59 263.70 L285.83 263.70 L286.06 263.70 L286.30 263.70 L286.53 263.70 L286.76 263.70 L287.00 263.70 L287.23 263.70 L287.46 263.70 L287.70 263.70 L287.93 263.70 L288.16 263.70 L288.40 263.70 L288.63 263.70 L288.86 263.70 L289.10 263.70 L289.33 263.70 L289.56 263.70 L289.80 263.70 L290.03 263.70 L290.26 263.70 L290.50 263.70 L290.73 263.70 L290.97 263.70 L291.20 263.70 L291.43 263.70 L291.67 263.70 L291.90 263.70 L292.13 263.70 L292.37 263.70 L292.60 263.70 L292.83 263.70 L293.07 263.70 L293.30 263.70" fill="none" stroke="#1010f0" stroke-width="1.85" stroke-dasharray="6.02 5.78"/><g font-size="12" fill="#111"><text x="56.50" y="264.30" text-anchor="end">0.000</text><text x="56.50" y="217.14" text-anchor="end">0.005</text><text x="56.50" y="166.08" text-anchor="end">0.010</text><text x="56.50" y="115.02" text-anchor="end">0.015</text><text x="56.50" y="63.96" text-anchor="end">0.020</text><text x="56.50" y="15.90" text-anchor="end">0.025</text><text x="83.25" y="279.30" text-anchor="middle">-200</text><text x="129.95" y="279.30" text-anchor="middle">-100</text><text x="177.35" y="279.30" text-anchor="middle">0</text><text x="224.05" y="279.30" text-anchor="middle">100</text><text x="270.75" y="279.30" text-anchor="middle">200</text><text x="146.75" y="292.6" font-size="12">V<tspan font-size="7.6" dy="3.2" stroke="#111" stroke-width="0.25">GSR</tspan><tspan dy="-3.2" dx="-1.1"> [km/s]</tspan></text><text transform="translate(15.70 161.20) rotate(-90)" font-size="12">dN/dV<tspan font-size="7.6" dy="3.0" stroke="#111" stroke-width="0.25">GSR</tspan></text><text x="78.80" y="29.7" letter-spacing="0.25">Off PAndAS Stream</text><text x="78.80" y="44.3" letter-spacing="0.25">N = 114</text></g>
<g stroke="#000" stroke-width="0.6" fill="none" stroke-opacity="0.55"><rect x="359.80" y="8.40" width="233.50" height="255.30" fill="none"/><path d="M364.47 8.40 v3.00 M364.47 263.70 v-3.00 M369.14 8.40 v3.00 M369.14 263.70 v-3.00 M373.81 8.40 v3.00 M373.81 263.70 v-3.00 M378.48 8.40 v3.00 M378.48 263.70 v-3.00 M383.15 8.40 v5.30 M383.15 263.70 v-5.30 M387.82 8.40 v3.00 M387.82 263.70 v-3.00 M392.49 8.40 v3.00 M392.49 263.70 v-3.00 M397.16 8.40 v3.00 M397.16 263.70 v-3.00 M401.83 8.40 v3.00 M401.83 263.70 v-3.00 M406.50 8.40 v3.00 M406.50 263.70 v-3.00 M411.17 8.40 v3.00 M411.17 263.70 v-3.00 M415.84 8.40 v3.00 M415.84 263.70 v-3.00 M420.51 8.40 v3.00 M420.51 263.70 v-3.00 M425.18 8.40 v3.00 M425.18 263.70 v-3.00 M429.85 8.40 v5.30 M429.85 263.70 v-5.30 M434.52 8.40 v3.00 M434.52 263.70 v-3.00 M439.19 8.40 v3.00 M439.19 263.70 v-3.00 M443.86 8.40 v3.00 M443.86 263.70 v-3.00 M448.53 8.40 v3.00 M448.53 263.70 v-3.00 M453.20 8.40 v3.00 M453.20 263.70 v-3.00 M457.87 8.40 v3.00 M457.87 263.70 v-3.00 M462.54 8.40 v3.00 M462.54 263.70 v-3.00 M467.21 8.40 v3.00 M467.21 263.70 v-3.00 M471.88 8.40 v3.00 M471.88 263.70 v-3.00 M476.55 8.40 v5.30 M476.55 263.70 v-5.30 M481.22 8.40 v3.00 M481.22 263.70 v-3.00 M485.89 8.40 v3.00 M485.89 263.70 v-3.00 M490.56 8.40 v3.00 M490.56 263.70 v-3.00 M495.23 8.40 v3.00 M495.23 263.70 v-3.00 M499.90 8.40 v3.00 M499.90 263.70 v-3.00 M504.57 8.40 v3.00 M504.57 263.70 v-3.00 M509.24 8.40 v3.00 M509.24 263.70 v-3.00 M513.91 8.40 v3.00 M513.91 263.70 v-3.00 M518.58 8.40 v3.00 M518.58 263.70 v-3.00 M523.25 8.40 v5.30 M523.25 263.70 v-5.30 M527.92 8.40 v3.00 M527.92 263.70 v-3.00 M532.59 8.40 v3.00 M532.59 263.70 v-3.00 M537.26 8.40 v3.00 M537.26 263.70 v-3.00 M541.93 8.40 v3.00 M541.93 263.70 v-3.00 M546.60 8.40 v3.00 M546.60 263.70 v-3.00 M551.27 8.40 v3.00 M551.27 263.70 v-3.00 M555.94 8.40 v3.00 M555.94 263.70 v-3.00 M560.61 8.40 v3.00 M560.61 263.70 v-3.00 M565.28 8.40 v3.00 M565.28 263.70 v-3.00 M569.95 8.40 v5.30 M569.95 263.70 v-5.30 M574.62 8.40 v3.00 M574.62 263.70 v-3.00 M579.29 8.40 v3.00 M579.29 263.70 v-3.00 M583.96 8.40 v3.00 M583.96 263.70 v-3.00 M588.63 8.40 v3.00 M588.63 263.70 v-3.00" stroke-opacity="0.8"/><path d="M359.80 253.49 h2.60 M593.30 253.49 h-2.60 M359.80 243.28 h2.60 M593.30 243.28 h-2.60 M359.80 233.06 h2.60 M593.30 233.06 h-2.60 M359.80 222.85 h2.60 M593.30 222.85 h-2.60 M359.80 212.64 h5.00 M593.30 212.64 h-5.00 M359.80 202.43 h2.60 M593.30 202.43 h-2.60 M359.80 192.22 h2.60 M593.30 192.22 h-2.60 M359.80 182.00 h2.60 M593.30 182.00 h-2.60 M359.80 171.79 h2.60 M593.30 171.79 h-2.60 M359.80 161.58 h5.00 M593.30 161.58 h-5.00 M359.80 151.37 h2.60 M593.30 151.37 h-2.60 M359.80 141.16 h2.60 M593.30 141.16 h-2.60 M359.80 130.94 h2.60 M593.30 130.94 h-2.60 M359.80 120.73 h2.60 M593.30 120.73 h-2.60 M359.80 110.52 h5.00 M593.30 110.52 h-5.00 M359.80 100.31 h2.60 M593.30 100.31 h-2.60 M359.80 90.10 h2.60 M593.30 90.10 h-2.60 M359.80 79.88 h2.60 M593.30 79.88 h-2.60 M359.80 69.67 h2.60 M593.30 69.67 h-2.60 M359.80 59.46 h5.00 M593.30 59.46 h-5.00 M359.80 49.25 h2.60 M593.30 49.25 h-2.60 M359.80 39.04 h2.60 M593.30 39.04 h-2.60 M359.80 28.82 h2.60 M593.30 28.82 h-2.60 M359.80 18.61 h2.60 M593.30 18.61 h-2.60" stroke-opacity="0.65"/></g><path d="M382.50 263.70 L382.50 240.08 L388.50 240.08 L388.50 263.70Z M400.50 263.70 L400.50 240.08 L406.50 240.08 L406.50 263.70Z M410.50 263.70 L410.50 240.08 L416.50 240.08 L416.50 263.70Z M419.50 263.70 L419.50 240.08 L434.50 240.08 L434.50 263.70Z M442.50 263.70 L442.50 240.08 L448.50 240.08 L448.50 263.70Z M456.50 263.70 L456.50 216.91 L472.50 216.91 L472.50 240.08 L489.50 240.08 L489.50 193.74 L495.50 193.74 L495.50 216.91 L503.50 216.91 L503.50 54.72 L509.50 54.72 L509.50 147.40 L514.50 147.40 L514.50 216.91 L517.50 216.91 L517.50 193.74 L523.50 193.74 L523.50 240.08 L528.50 240.08 L528.50 263.70Z M564.50 263.70 L564.50 240.08 L570.50 240.08 L570.50 263.70Z" fill="#c2c2c2" stroke="none"/><path d="M359.80 263.25 L382.50 263.25 L382.50 240.08 L388.50 240.08 L388.50 263.25 L400.50 263.25 L400.50 240.08 L406.50 240.08 L406.50 263.25 L410.50 263.25 L410.50 240.08 L416.50 240.08 L416.50 263.25 L419.50 263.25 L419.50 240.08 L434.50 240.08 L434.50 263.25 L442.50 263.25 L442.50 240.08 L448.50 240.08 L448.50 263.25 L456.50 263.25 L456.50 216.91 L472.50 216.91 L472.50 240.08 L489.50 240.08 L489.50 193.74 L495.50 193.74 L495.50 216.91 L503.50 216.91 L503.50 54.72 L509.50 54.72 L509.50 147.40 L514.50 147.40 L514.50 216.91 L517.50 216.91 L517.50 193.74 L523.50 193.74 L523.50 240.08 L528.50 240.08 L528.50 263.25 L564.50 263.25 L564.50 240.08 L570.50 240.08 L570.50 263.25 L593.30 263.25" fill="none" stroke="#7c7c7c" stroke-width="1.2" stroke-linejoin="miter"/><path d="M359.80 263.9 H593.30" stroke="#808080" stroke-width="1.1"/><path d="M359.80 261.70 L360.03 261.68 L360.27 261.66 L360.50 261.64 L360.73 261.62 L360.97 261.60 L361.20 261.58 L361.43 261.56 L361.67 261.54 L361.90 261.52 L362.13 261.50 L362.37 261.48 L362.60 261.45 L362.84 261.43 L363.07 261.41 L363.30 261.39 L363.54 261.37 L363.77 261.34 L364.00 261.32 L364.24 261.30 L364.47 261.27 L364.70 261.25 L364.94 261.23 L365.17 261.20 L365.40 261.18 L365.64 261.16 L365.87 261.13 L366.10 261.11 L366.34 261.08 L366.57 261.06 L366.81 261.03 L367.04 261.01 L367.27 260.98 L367.51 260.96 L367.74 260.93 L367.97 260.91 L368.21 260.88 L368.44 260.85 L368.67 260.83 L368.91 260.80 L369.14 260.77 L369.37 260.75 L369.61 260.72 L369.84 260.69 L370.07 260.67 L370.31 260.64 L370.54 260.61 L370.77 260.58 L371.01 260.55 L371.24 260.52 L371.48 260.50 L371.71 260.47 L371.94 260.44 L372.18 260.41 L372.41 260.38 L372.64 260.35 L372.88 260.32 L373.11 260.29 L373.34 260.26 L373.58 260.23 L373.81 260.20 L374.04 260.17 L374.28 260.14 L374.51 260.11 L374.74 260.07 L374.98 260.04 L375.21 260.01 L375.44 259.98 L375.68 259.95 L375.91 259.91 L376.14 259.88 L376.38 259.85 L376.61 259.82 L376.85 259.78 L377.08 259.75 L377.31 259.72 L377.55 259.68 L377.78 259.65 L378.01 259.61 L378.25 259.58 L378.48 259.54 L378.71 259.51 L378.95 259.47 L379.18 259.44 L379.41 259.40 L379.65 259.37 L379.88 259.33 L380.11 259.30 L380.35 259.26 L380.58 259.22 L380.81 259.19 L381.05 259.15 L381.28 259.11 L381.52 259.07 L381.75 259.04 L381.98 259.00 L382.22 258.96 L382.45 258.92 L382.68 258.88 L382.92 258.85 L383.15 258.81 L383.38 258.77 L383.62 258.73 L383.85 258.69 L384.08 258.65 L384.32 258.61 L384.55 258.57 L384.78 258.53 L385.02 258.49 L385.25 258.45 L385.49 258.41 L385.72 258.36 L385.95 258.32 L386.19 258.28 L386.42 258.24 L386.65 258.20 L386.89 258.16 L387.12 258.11 L387.35 258.07 L387.59 258.03 L387.82 257.98 L388.05 257.94 L388.29 257.90 L388.52 257.85 L388.75 257.81 L388.99 257.76 L389.22 257.72 L389.45 257.68 L389.69 257.63 L389.92 257.59 L390.15 257.54 L390.39 257.49 L390.62 257.45 L390.86 257.40 L391.09 257.36 L391.32 257.31 L391.56 257.26 L391.79 257.22 L392.02 257.17 L392.26 257.12 L392.49 257.08 L392.72 257.03 L392.96 256.98 L393.19 256.93 L393.42 256.88 L393.66 256.84 L393.89 256.79 L394.12 256.74 L394.36 256.69 L394.59 256.64 L394.82 256.59 L395.06 256.54 L395.29 256.49 L395.53 256.44 L395.76 256.39 L395.99 256.34 L396.23 256.29 L396.46 256.24 L396.69 256.19 L396.93 256.14 L397.16 256.08 L397.39 256.03 L397.63 255.98 L397.86 255.93 L398.09 255.88 L398.33 255.82 L398.56 255.77 L398.79 255.72 L399.03 255.66 L399.26 255.61 L399.50 255.56 L399.73 255.50 L399.96 255.45 L400.20 255.40 L400.43 255.34 L400.66 255.29 L400.90 255.23 L401.13 255.18 L401.36 255.12 L401.60 255.07 L401.83 255.01 L402.06 254.96 L402.30 254.90 L402.53 254.85 L402.76 254.79 L403.00 254.73 L403.23 254.68 L403.46 254.62 L403.70 254.56 L403.93 254.51 L404.17 254.45 L404.40 254.39 L404.63 254.34 L404.87 254.28 L405.10 254.22 L405.33 254.16 L405.57 254.10 L405.80 254.05 L406.03 253.99 L406.27 253.93 L406.50 253.87 L406.73 253.81 L406.97 253.75 L407.20 253.69 L407.43 253.63 L407.67 253.57 L407.90 253.52 L408.13 253.46 L408.37 253.40 L408.60 253.34 L408.83 253.28 L409.07 253.22 L409.30 253.15 L409.54 253.09 L409.77 253.03 L410.00 252.97 L410.24 252.91 L410.47 252.85 L410.70 252.79 L410.94 252.73 L411.17 252.67 L411.40 252.60 L411.64 252.54 L411.87 252.48 L412.10 252.42 L412.34 252.36 L412.57 252.29 L412.80 252.23 L413.04 252.17 L413.27 252.11 L413.50 252.04 L413.74 251.98 L413.97 251.92 L414.21 251.86 L414.44 251.79 L414.67 251.73 L414.91 251.67 L415.14 251.60 L415.37 251.54 L415.61 251.48 L415.84 251.41 L416.07 251.35 L416.31 251.28 L416.54 251.22 L416.77 251.16 L417.01 251.09 L417.24 251.03 L417.47 250.96 L417.71 250.90 L417.94 250.84 L418.18 250.77 L418.41 250.71 L418.64 250.64 L418.88 250.58 L419.11 250.51 L419.34 250.45 L419.58 250.38 L419.81 250.32 L420.04 250.25 L420.28 250.19 L420.51 250.12 L420.74 250.06 L420.98 249.99 L421.21 249.93 L421.44 249.86 L421.68 249.80 L421.91 249.73 L422.14 249.67 L422.38 249.60 L422.61 249.54 L422.84 249.47 L423.08 249.41 L423.31 249.34 L423.55 249.28 L423.78 249.21 L424.01 249.15 L424.25 249.08 L424.48 249.02 L424.71 248.95 L424.95 248.89 L425.18 248.82 L425.41 248.76 L425.65 248.69 L425.88 248.63 L426.11 248.56 L426.35 248.50 L426.58 248.43 L426.81 248.37 L427.05 248.30 L427.28 248.24 L427.51 248.17 L427.75 248.11 L427.98 248.04 L428.22 247.98 L428.45 247.91 L428.68 247.85 L428.92 247.78 L429.15 247.72 L429.38 247.65 L429.62 247.59 L429.85 247.52 L430.08 247.46 L430.32 247.39 L430.55 247.33 L430.78 247.27 L431.02 247.20 L431.25 247.14 L431.48 247.07 L431.72 247.01 L431.95 246.95 L432.19 246.88 L432.42 246.82 L432.65 246.75 L432.89 246.69 L433.12 246.63 L433.35 246.56 L433.59 246.50 L433.82 246.44 L434.05 246.38 L434.29 246.31 L434.52 246.25 L434.75 246.19 L434.99 246.12 L435.22 246.06 L435.45 246.00 L435.69 245.94 L435.92 245.88 L436.15 245.81 L436.39 245.75 L436.62 245.69 L436.86 245.63 L437.09 245.57 L437.32 245.51 L437.56 245.45 L437.79 245.39 L438.02 245.33 L438.26 245.27 L438.49 245.21 L438.72 245.15 L438.96 245.09 L439.19 245.03 L439.42 244.97 L439.66 244.91 L439.89 244.85 L440.12 244.79 L440.36 244.73 L440.59 244.67 L440.82 244.61 L441.06 244.56 L441.29 244.50 L441.52 244.44 L441.76 244.38 L441.99 244.33 L442.23 244.27 L442.46 244.21 L442.69 244.16 L442.93 244.10 L443.16 244.04 L443.39 243.99 L443.63 243.93 L443.86 243.88 L444.09 243.82 L444.33 243.77 L444.56 243.71 L444.79 243.66 L445.03 243.60 L445.26 243.55 L445.49 243.49 L445.73 243.44 L445.96 243.39 L446.19 243.33 L446.43 243.28 L446.66 243.23 L446.90 243.18 L447.13 243.13 L447.36 243.07 L447.60 243.02 L447.83 242.97 L448.06 242.92 L448.30 242.87 L448.53 242.82 L448.76 242.77 L449.00 242.72 L449.23 242.67 L449.46 242.62 L449.70 242.58 L449.93 242.53 L450.16 242.48 L450.40 242.43 L450.63 242.38 L450.87 242.34 L451.10 242.29 L451.33 242.24 L451.57 242.20 L451.80 242.15 L452.03 242.11 L452.27 242.06 L452.50 242.02 L452.73 241.97 L452.97 241.93 L453.20 241.89 L453.43 241.84 L453.67 241.80 L453.90 241.76 L454.13 241.71 L454.37 241.67 L454.60 241.63 L454.83 241.59 L455.07 241.55 L455.30 241.51 L455.53 241.47 L455.77 241.43 L456.00 241.39 L456.24 241.35 L456.47 241.31 L456.70 241.27 L456.94 241.24 L457.17 241.20 L457.40 241.16 L457.64 241.12 L457.87 241.09 L458.10 241.05 L458.34 241.02 L458.57 240.98 L458.80 240.95 L459.04 240.91 L459.27 240.88 L459.50 240.85 L459.74 240.81 L459.97 240.78 L460.20 240.75 L460.44 240.72 L460.67 240.68 L460.91 240.65 L461.14 240.62 L461.37 240.59 L461.61 240.56 L461.84 240.53 L462.07 240.51 L462.31 240.48 L462.54 240.45 L462.77 240.42 L463.01 240.39 L463.24 240.37 L463.47 240.34 L463.71 240.32 L463.94 240.29 L464.17 240.26 L464.41 240.24 L464.64 240.22 L464.88 240.19 L465.11 240.17 L465.34 240.15 L465.58 240.12 L465.81 240.10 L466.04 240.08 L466.28 240.06 L466.51 240.04 L466.74 240.02 L466.98 240.00 L467.21 239.98 L467.44 239.96 L467.68 239.94 L467.91 239.93 L468.14 239.91 L468.38 239.89 L468.61 239.88 L468.84 239.86 L469.08 239.84 L469.31 239.83 L469.54 239.81 L469.78 239.80 L470.01 239.79 L470.25 239.77 L470.48 239.76 L470.71 239.75 L470.95 239.74 L471.18 239.73 L471.41 239.72 L471.65 239.71 L471.88 239.70 L472.11 239.69 L472.35 239.68 L472.58 239.67 L472.81 239.66 L473.05 239.65 L473.28 239.65 L473.51 239.64 L473.75 239.63 L473.98 239.63 L474.21 239.62 L474.45 239.62 L474.68 239.62 L474.92 239.61 L475.15 239.61 L475.38 239.61 L475.62 239.60 L475.85 239.60 L476.08 239.60 L476.32 239.60 L476.55 239.60 L476.78 239.60 L477.02 239.60 L477.25 239.60 L477.48 239.60 L477.72 239.61 L477.95 239.61 L478.18 239.61 L478.42 239.62 L478.65 239.62 L478.88 239.62 L479.12 239.63 L479.35 239.63 L479.59 239.64 L479.82 239.65 L480.05 239.65 L480.29 239.66 L480.52 239.67 L480.75 239.68 L480.99 239.69 L481.22 239.70 L481.45 239.71 L481.69 239.72 L481.92 239.73 L482.15 239.74 L482.39 239.75 L482.62 239.76 L482.85 239.77 L483.09 239.79 L483.32 239.80 L483.55 239.81 L483.79 239.83 L484.02 239.84 L484.26 239.86 L484.49 239.88 L484.72 239.89 L484.96 239.91 L485.19 239.93 L485.42 239.94 L485.66 239.96 L485.89 239.98 L486.12 240.00 L486.36 240.02 L486.59 240.04 L486.82 240.06 L487.06 240.08 L487.29 240.10 L487.52 240.12 L487.76 240.15 L487.99 240.17 L488.22 240.19 L488.46 240.22 L488.69 240.24 L488.93 240.26 L489.16 240.29 L489.39 240.32 L489.63 240.34 L489.86 240.37 L490.09 240.39 L490.33 240.42 L490.56 240.45 L490.79 240.48 L491.03 240.51 L491.26 240.53 L491.49 240.56 L491.73 240.59 L491.96 240.62 L492.19 240.65 L492.43 240.68 L492.66 240.72 L492.89 240.75 L493.13 240.78 L493.36 240.81 L493.60 240.85 L493.83 240.88 L494.06 240.91 L494.30 240.95 L494.53 240.98 L494.76 241.02 L495.00 241.05 L495.23 241.08 L495.46 241.12 L495.70 241.15 L495.93 241.18 L496.16 241.21 L496.40 241.24 L496.63 241.27 L496.86 241.29 L497.10 241.30 L497.33 241.31 L497.56 241.30 L497.80 241.28 L498.03 241.24 L498.27 241.18 L498.50 241.07 L498.73 240.93 L498.97 240.73 L499.20 240.47 L499.43 240.12 L499.67 239.66 L499.90 239.08 L500.13 238.34 L500.37 237.42 L500.60 236.29 L500.83 234.89 L501.07 233.20 L501.30 231.17 L501.53 228.75 L501.77 225.89 L502.00 222.54 L502.23 218.66 L502.47 214.19 L502.70 209.10 L502.94 203.36 L503.17 196.92 L503.40 189.80 L503.64 181.97 L503.87 173.45 L504.10 164.29 L504.34 154.52 L504.57 144.22 L504.80 133.48 L505.04 122.42 L505.27 111.17 L505.50 99.87 L505.74 88.68 L505.97 77.79 L506.20 67.36 L506.44 57.59 L506.67 48.65 L506.90 40.71 L507.14 33.92 L507.37 28.43 L507.61 24.34 L507.84 21.75 L508.07 20.71 L508.31 21.23 L508.54 23.32 L508.77 26.92 L509.01 31.97 L509.24 38.36 L509.47 45.97 L509.71 54.64 L509.94 64.21 L510.17 74.50 L510.41 85.34 L510.64 96.54 L510.87 107.92 L511.11 119.32 L511.34 130.58 L511.57 141.57 L511.81 152.16 L512.04 162.26 L512.28 171.78 L512.51 180.67 L512.74 188.88 L512.98 196.40 L513.21 203.22 L513.44 209.34 L513.68 214.80 L513.91 219.61 L514.14 223.83 L514.38 227.49 L514.61 230.65 L514.84 233.35 L515.08 235.63 L515.31 237.56 L515.54 239.17 L515.78 240.51 L516.01 241.62 L516.25 242.53 L516.48 243.28 L516.71 243.88 L516.95 244.38 L517.18 244.78 L517.41 245.11 L517.65 245.38 L517.88 245.60 L518.11 245.78 L518.35 245.93 L518.58 246.06 L518.81 246.18 L519.05 246.28 L519.28 246.37 L519.51 246.45 L519.75 246.53 L519.98 246.60 L520.21 246.67 L520.45 246.74 L520.68 246.81 L520.91 246.88 L521.15 246.94 L521.38 247.01 L521.62 247.07 L521.85 247.14 L522.08 247.20 L522.32 247.26 L522.55 247.33 L522.78 247.39 L523.02 247.46 L523.25 247.52 L523.48 247.59 L523.72 247.65 L523.95 247.72 L524.18 247.78 L524.42 247.85 L524.65 247.91 L524.88 247.98 L525.12 248.04 L525.35 248.11 L525.58 248.17 L525.82 248.24 L526.05 248.30 L526.29 248.37 L526.52 248.43 L526.75 248.50 L526.99 248.56 L527.22 248.63 L527.45 248.69 L527.69 248.76 L527.92 248.82 L528.15 248.89 L528.39 248.95 L528.62 249.02 L528.85 249.08 L529.09 249.15 L529.32 249.21 L529.55 249.28 L529.79 249.34 L530.02 249.41 L530.25 249.47 L530.49 249.54 L530.72 249.60 L530.96 249.67 L531.19 249.73 L531.42 249.80 L531.66 249.86 L531.89 249.93 L532.12 249.99 L532.36 250.06 L532.59 250.12 L532.82 250.19 L533.06 250.25 L533.29 250.32 L533.52 250.38 L533.76 250.45 L533.99 250.51 L534.22 250.58 L534.46 250.64 L534.69 250.71 L534.92 250.77 L535.16 250.84 L535.39 250.90 L535.63 250.96 L535.86 251.03 L536.09 251.09 L536.33 251.16 L536.56 251.22 L536.79 251.28 L537.03 251.35 L537.26 251.41 L537.49 251.48 L537.73 251.54 L537.96 251.60 L538.19 251.67 L538.43 251.73 L538.66 251.79 L538.89 251.86 L539.13 251.92 L539.36 251.98 L539.60 252.04 L539.83 252.11 L540.06 252.17 L540.30 252.23 L540.53 252.29 L540.76 252.36 L541.00 252.42 L541.23 252.48 L541.46 252.54 L541.70 252.60 L541.93 252.67 L542.16 252.73 L542.40 252.79 L542.63 252.85 L542.86 252.91 L543.10 252.97 L543.33 253.03 L543.56 253.09 L543.80 253.15 L544.03 253.22 L544.26 253.28 L544.50 253.34 L544.73 253.40 L544.97 253.46 L545.20 253.52 L545.43 253.57 L545.67 253.63 L545.90 253.69 L546.13 253.75 L546.37 253.81 L546.60 253.87 L546.83 253.93 L547.07 253.99 L547.30 254.05 L547.53 254.10 L547.77 254.16 L548.00 254.22 L548.23 254.28 L548.47 254.34 L548.70 254.39 L548.93 254.45 L549.17 254.51 L549.40 254.56 L549.64 254.62 L549.87 254.68 L550.10 254.73 L550.34 254.79 L550.57 254.85 L550.80 254.90 L551.04 254.96 L551.27 255.01 L551.50 255.07 L551.74 255.12 L551.97 255.18 L552.20 255.23 L552.44 255.29 L552.67 255.34 L552.90 255.40 L553.14 255.45 L553.37 255.50 L553.61 255.56 L553.84 255.61 L554.07 255.66 L554.31 255.72 L554.54 255.77 L554.77 255.82 L555.01 255.88 L555.24 255.93 L555.47 255.98 L555.71 256.03 L555.94 256.08 L556.17 256.14 L556.41 256.19 L556.64 256.24 L556.87 256.29 L557.11 256.34 L557.34 256.39 L557.57 256.44 L557.81 256.49 L558.04 256.54 L558.27 256.59 L558.51 256.64 L558.74 256.69 L558.98 256.74 L559.21 256.79 L559.44 256.84 L559.68 256.88 L559.91 256.93 L560.14 256.98 L560.38 257.03 L560.61 257.08 L560.84 257.12 L561.08 257.17 L561.31 257.22 L561.54 257.26 L561.78 257.31 L562.01 257.36 L562.24 257.40 L562.48 257.45 L562.71 257.49 L562.94 257.54 L563.18 257.59 L563.41 257.63 L563.65 257.68 L563.88 257.72 L564.11 257.76 L564.35 257.81 L564.58 257.85 L564.81 257.90 L565.05 257.94 L565.28 257.98 L565.51 258.03 L565.75 258.07 L565.98 258.11 L566.21 258.16 L566.45 258.20 L566.68 258.24 L566.91 258.28 L567.15 258.32 L567.38 258.36 L567.62 258.41 L567.85 258.45 L568.08 258.49 L568.32 258.53 L568.55 258.57 L568.78 258.61 L569.02 258.65 L569.25 258.69 L569.48 258.73 L569.72 258.77 L569.95 258.81 L570.18 258.85 L570.42 258.88 L570.65 258.92 L570.88 258.96 L571.12 259.00 L571.35 259.04 L571.58 259.07 L571.82 259.11 L572.05 259.15 L572.28 259.19 L572.52 259.22 L572.75 259.26 L572.99 259.30 L573.22 259.33 L573.45 259.37 L573.69 259.40 L573.92 259.44 L574.15 259.47 L574.39 259.51 L574.62 259.54 L574.85 259.58 L575.09 259.61 L575.32 259.65 L575.55 259.68 L575.79 259.72 L576.02 259.75 L576.25 259.78 L576.49 259.82 L576.72 259.85 L576.95 259.88 L577.19 259.91 L577.42 259.95 L577.66 259.98 L577.89 260.01 L578.12 260.04 L578.36 260.07 L578.59 260.11 L578.82 260.14 L579.06 260.17 L579.29 260.20 L579.52 260.23 L579.76 260.26 L579.99 260.29 L580.22 260.32 L580.46 260.35 L580.69 260.38 L580.92 260.41 L581.16 260.44 L581.39 260.47 L581.62 260.50 L581.86 260.52 L582.09 260.55 L582.33 260.58 L582.56 260.61 L582.79 260.64 L583.03 260.67 L583.26 260.69 L583.49 260.72 L583.73 260.75 L583.96 260.77 L584.19 260.80 L584.43 260.83 L584.66 260.85 L584.89 260.88 L585.13 260.91 L585.36 260.93 L585.59 260.96 L585.83 260.98 L586.06 261.01 L586.29 261.03 L586.53 261.06 L586.76 261.08 L587.00 261.11 L587.23 261.13 L587.46 261.16 L587.70 261.18 L587.93 261.20 L588.16 261.23 L588.40 261.25 L588.63 261.27 L588.86 261.30 L589.10 261.32 L589.33 261.34 L589.56 261.37 L589.80 261.39 L590.03 261.41 L590.26 261.43 L590.50 261.45 L590.73 261.48 L590.96 261.50 L591.20 261.52 L591.43 261.54 L591.67 261.56 L591.90 261.58 L592.13 261.60 L592.37 261.62 L592.60 261.64 L592.83 261.66 L593.07 261.68 L593.30 261.70" fill="none" stroke="#000" stroke-width="2.1" stroke-linejoin="round"/><path d="M499.20 241.76 L499.43 241.80 L499.67 241.84 L499.90 241.89 L500.13 241.93 L500.37 241.97 L500.60 242.02 L500.83 242.06 L501.07 242.11 L501.30 242.15 L501.53 242.20 L501.77 242.24 L502.00 242.29 L502.23 242.34 L502.47 242.38 L502.70 242.43 L502.94 242.48 L503.17 242.53 L503.40 242.58 L503.64 242.62 L503.87 242.67 L504.10 242.72 L504.34 242.77 L504.57 242.82 L504.80 242.87 L505.04 242.92 L505.27 242.97 L505.50 243.02 L505.74 243.07 L505.97 243.13 L506.20 243.18 L506.44 243.23 L506.67 243.28 L506.90 243.33 L507.14 243.39 L507.37 243.44 L507.61 243.49 L507.84 243.55 L508.07 243.60 L508.31 243.66 L508.54 243.71 L508.77 243.77 L509.01 243.82 L509.24 243.88 L509.47 243.93 L509.71 243.99 L509.94 244.04 L510.17 244.10 L510.41 244.16 L510.64 244.21 L510.87 244.27 L511.11 244.33 L511.34 244.38 L511.57 244.44 L511.81 244.50 L512.04 244.56 L512.28 244.61 L512.51 244.67 L512.74 244.73 L512.98 244.79 L513.21 244.85 L513.44 244.91 L513.68 244.97 L513.91 245.03 L514.14 245.09 L514.38 245.15 L514.61 245.21 L514.84 245.27 L515.08 245.33 L515.31 245.39 L515.54 245.45 L515.78 245.51 L516.01 245.57 L516.25 245.63 L516.48 245.69 L516.71 245.75 L516.95 245.81" fill="none" stroke="#000" stroke-width="1.4" stroke-dasharray="1.4 2.6"/><path d="M359.80 263.70 L360.03 263.70 L360.27 263.70 L360.50 263.70 L360.73 263.70 L360.97 263.70 L361.20 263.70 L361.43 263.70 L361.67 263.70 L361.90 263.70 L362.13 263.70 L362.37 263.70 L362.60 263.70 L362.84 263.70 L363.07 263.70 L363.30 263.70 L363.54 263.70 L363.77 263.70 L364.00 263.70 L364.24 263.70 L364.47 263.70 L364.70 263.70 L364.94 263.70 L365.17 263.70 L365.40 263.70 L365.64 263.70 L365.87 263.70 L366.10 263.70 L366.34 263.70 L366.57 263.70 L366.81 263.70 L367.04 263.70 L367.27 263.70 L367.51 263.70 L367.74 263.70 L367.97 263.70 L368.21 263.70 L368.44 263.70 L368.67 263.70 L368.91 263.70 L369.14 263.70 L369.37 263.70 L369.61 263.70 L369.84 263.70 L370.07 263.70 L370.31 263.70 L370.54 263.70 L370.77 263.70 L371.01 263.70 L371.24 263.70 L371.48 263.70 L371.71 263.70 L371.94 263.70 L372.18 263.70 L372.41 263.70 L372.64 263.70 L372.88 263.70 L373.11 263.70 L373.34 263.70 L373.58 263.70 L373.81 263.70 L374.04 263.70 L374.28 263.70 L374.51 263.70 L374.74 263.70 L374.98 263.70 L375.21 263.70 L375.44 263.70 L375.68 263.70 L375.91 263.70 L376.14 263.70 L376.38 263.70 L376.61 263.70 L376.85 263.70 L377.08 263.70 L377.31 263.70 L377.55 263.70 L377.78 263.70 L378.01 263.70 L378.25 263.70 L378.48 263.70 L378.71 263.70 L378.95 263.70 L379.18 263.70 L379.41 263.70 L379.65 263.70 L379.88 263.70 L380.11 263.70 L380.35 263.70 L380.58 263.70 L380.81 263.70 L381.05 263.70 L381.28 263.70 L381.52 263.70 L381.75 263.70 L381.98 263.70 L382.22 263.70 L382.45 263.70 L382.68 263.70 L382.92 263.70 L383.15 263.70 L383.38 263.70 L383.62 263.70 L383.85 263.70 L384.08 263.70 L384.32 263.70 L384.55 263.70 L384.78 263.70 L385.02 263.70 L385.25 263.70 L385.49 263.70 L385.72 263.70 L385.95 263.70 L386.19 263.70 L386.42 263.70 L386.65 263.70 L386.89 263.70 L387.12 263.70 L387.35 263.70 L387.59 263.70 L387.82 263.70 L388.05 263.70 L388.29 263.70 L388.52 263.70 L388.75 263.70 L388.99 263.70 L389.22 263.70 L389.45 263.70 L389.69 263.70 L389.92 263.70 L390.15 263.70 L390.39 263.70 L390.62 263.70 L390.86 263.70 L391.09 263.70 L391.32 263.70 L391.56 263.70 L391.79 263.70 L392.02 263.70 L392.26 263.70 L392.49 263.70 L392.72 263.70 L392.96 263.70 L393.19 263.70 L393.42 263.70 L393.66 263.70 L393.89 263.70 L394.12 263.70 L394.36 263.70 L394.59 263.70 L394.82 263.70 L395.06 263.70 L395.29 263.70 L395.53 263.70 L395.76 263.70 L395.99 263.70 L396.23 263.70 L396.46 263.70 L396.69 263.70 L396.93 263.70 L397.16 263.70 L397.39 263.70 L397.63 263.70 L397.86 263.70 L398.09 263.70 L398.33 263.70 L398.56 263.70 L398.79 263.70 L399.03 263.70 L399.26 263.70 L399.50 263.70 L399.73 263.70 L399.96 263.70 L400.20 263.70 L400.43 263.70 L400.66 263.70 L400.90 263.70 L401.13 263.70 L401.36 263.70 L401.60 263.70 L401.83 263.70 L402.06 263.70 L402.30 263.70 L402.53 263.70 L402.76 263.70 L403.00 263.70 L403.23 263.70 L403.46 263.70 L403.70 263.70 L403.93 263.70 L404.17 263.70 L404.40 263.70 L404.63 263.70 L404.87 263.70 L405.10 263.70 L405.33 263.70 L405.57 263.70 L405.80 263.70 L406.03 263.70 L406.27 263.70 L406.50 263.70 L406.73 263.70 L406.97 263.70 L407.20 263.70 L407.43 263.70 L407.67 263.70 L407.90 263.70 L408.13 263.70 L408.37 263.70 L408.60 263.70 L408.83 263.70 L409.07 263.70 L409.30 263.70 L409.54 263.70 L409.77 263.70 L410.00 263.70 L410.24 263.70 L410.47 263.70 L410.70 263.70 L410.94 263.70 L411.17 263.70 L411.40 263.70 L411.64 263.70 L411.87 263.70 L412.10 263.70 L412.34 263.70 L412.57 263.70 L412.80 263.70 L413.04 263.70 L413.27 263.70 L413.50 263.70 L413.74 263.70 L413.97 263.70 L414.21 263.70 L414.44 263.70 L414.67 263.70 L414.91 263.70 L415.14 263.70 L415.37 263.70 L415.61 263.70 L415.84 263.70 L416.07 263.70 L416.31 263.70 L416.54 263.70 L416.77 263.70 L417.01 263.70 L417.24 263.70 L417.47 263.70 L417.71 263.70 L417.94 263.70 L418.18 263.70 L418.41 263.70 L418.64 263.70 L418.88 263.70 L419.11 263.70 L419.34 263.70 L419.58 263.70 L419.81 263.70 L420.04 263.70 L420.28 263.70 L420.51 263.70 L420.74 263.70 L420.98 263.70 L421.21 263.70 L421.44 263.70 L421.68 263.70 L421.91 263.70 L422.14 263.70 L422.38 263.70 L422.61 263.70 L422.84 263.70 L423.08 263.70 L423.31 263.70 L423.55 263.70 L423.78 263.70 L424.01 263.70 L424.25 263.70 L424.48 263.70 L424.71 263.70 L424.95 263.70 L425.18 263.70 L425.41 263.70 L425.65 263.70 L425.88 263.70 L426.11 263.70 L426.35 263.70 L426.58 263.70 L426.81 263.70 L427.05 263.70 L427.28 263.70 L427.51 263.70 L427.75 263.70 L427.98 263.70 L428.22 263.70 L428.45 263.70 L428.68 263.70 L428.92 263.70 L429.15 263.70 L429.38 263.70 L429.62 263.70 L429.85 263.70 L430.08 263.70 L430.32 263.70 L430.55 263.70 L430.78 263.70 L431.02 263.70 L431.25 263.70 L431.48 263.70 L431.72 263.70 L431.95 263.70 L432.19 263.70 L432.42 263.70 L432.65 263.70 L432.89 263.70 L433.12 263.70 L433.35 263.70 L433.59 263.70 L433.82 263.70 L434.05 263.70 L434.29 263.70 L434.52 263.70 L434.75 263.70 L434.99 263.70 L435.22 263.70 L435.45 263.70 L435.69 263.70 L435.92 263.70 L436.15 263.70 L436.39 263.70 L436.62 263.70 L436.86 263.70 L437.09 263.70 L437.32 263.70 L437.56 263.70 L437.79 263.70 L438.02 263.70 L438.26 263.70 L438.49 263.70 L438.72 263.70 L438.96 263.70 L439.19 263.70 L439.42 263.70 L439.66 263.70 L439.89 263.70 L440.12 263.70 L440.36 263.70 L440.59 263.70 L440.82 263.70 L441.06 263.70 L441.29 263.70 L441.52 263.70 L441.76 263.70 L441.99 263.70 L442.23 263.70 L442.46 263.70 L442.69 263.70 L442.93 263.70 L443.16 263.70 L443.39 263.70 L443.63 263.70 L443.86 263.70 L444.09 263.70 L444.33 263.70 L444.56 263.70 L444.79 263.70 L445.03 263.70 L445.26 263.70 L445.49 263.70 L445.73 263.70 L445.96 263.70 L446.19 263.70 L446.43 263.70 L446.66 263.70 L446.90 263.70 L447.13 263.70 L447.36 263.70 L447.60 263.70 L447.83 263.70 L448.06 263.70 L448.30 263.70 L448.53 263.70 L448.76 263.70 L449.00 263.70 L449.23 263.70 L449.46 263.70 L449.70 263.70 L449.93 263.70 L450.16 263.70 L450.40 263.70 L450.63 263.70 L450.87 263.70 L451.10 263.70 L451.33 263.70 L451.57 263.70 L451.80 263.70 L452.03 263.70 L452.27 263.70 L452.50 263.70 L452.73 263.70 L452.97 263.70 L453.20 263.70 L453.43 263.70 L453.67 263.70 L453.90 263.70 L454.13 263.70 L454.37 263.70 L454.60 263.70 L454.83 263.70 L455.07 263.70 L455.30 263.70 L455.53 263.70 L455.77 263.70 L456.00 263.70 L456.24 263.70 L456.47 263.70 L456.70 263.70 L456.94 263.70 L457.17 263.70 L457.40 263.70 L457.64 263.70 L457.87 263.70 L458.10 263.70 L458.34 263.70 L458.57 263.70 L458.80 263.70 L459.04 263.70 L459.27 263.70 L459.50 263.70 L459.74 263.70 L459.97 263.70 L460.20 263.70 L460.44 263.70 L460.67 263.70 L460.91 263.70 L461.14 263.70 L461.37 263.70 L461.61 263.70 L461.84 263.70 L462.07 263.70 L462.31 263.70 L462.54 263.70 L462.77 263.70 L463.01 263.70 L463.24 263.70 L463.47 263.70 L463.71 263.70 L463.94 263.70 L464.17 263.70 L464.41 263.70 L464.64 263.70 L464.88 263.70 L465.11 263.70 L465.34 263.70 L465.58 263.70 L465.81 263.70 L466.04 263.70 L466.28 263.70 L466.51 263.70 L466.74 263.70 L466.98 263.70 L467.21 263.70 L467.44 263.70 L467.68 263.70 L467.91 263.70 L468.14 263.70 L468.38 263.70 L468.61 263.70 L468.84 263.70 L469.08 263.70 L469.31 263.70 L469.54 263.70 L469.78 263.70 L470.01 263.70 L470.25 263.70 L470.48 263.70 L470.71 263.70 L470.95 263.70 L471.18 263.70 L471.41 263.70 L471.65 263.70 L471.88 263.70 L472.11 263.70 L472.35 263.70 L472.58 263.70 L472.81 263.70 L473.05 263.70 L473.28 263.70 L473.51 263.70 L473.75 263.70 L473.98 263.70 L474.21 263.70 L474.45 263.70 L474.68 263.70 L474.92 263.70 L475.15 263.70 L475.38 263.70 L475.62 263.70 L475.85 263.70 L476.08 263.70 L476.32 263.70 L476.55 263.70 L476.78 263.70 L477.02 263.70 L477.25 263.70 L477.48 263.70 L477.72 263.70 L477.95 263.70 L478.18 263.70 L478.42 263.70 L478.65 263.70 L478.88 263.70 L479.12 263.70 L479.35 263.70 L479.59 263.70 L479.82 263.70 L480.05 263.70 L480.29 263.70 L480.52 263.70 L480.75 263.70 L480.99 263.70 L481.22 263.70 L481.45 263.70 L481.69 263.70 L481.92 263.70 L482.15 263.70 L482.39 263.70 L482.62 263.70 L482.85 263.70 L483.09 263.70 L483.32 263.70 L483.55 263.70 L483.79 263.70 L484.02 263.70 L484.26 263.70 L484.49 263.70 L484.72 263.70 L484.96 263.70 L485.19 263.70 L485.42 263.70 L485.66 263.70 L485.89 263.70 L486.12 263.70 L486.36 263.70 L486.59 263.70 L486.82 263.70 L487.06 263.70 L487.29 263.70 L487.52 263.70 L487.76 263.70 L487.99 263.70 L488.22 263.70 L488.46 263.70 L488.69 263.70 L488.93 263.70 L489.16 263.70 L489.39 263.70 L489.63 263.70 L489.86 263.70 L490.09 263.70 L490.33 263.70 L490.56 263.70 L490.79 263.70 L491.03 263.70 L491.26 263.70 L491.49 263.70 L491.73 263.70 L491.96 263.70 L492.19 263.70 L492.43 263.70 L492.66 263.70 L492.89 263.70 L493.13 263.70 L493.36 263.70 L493.60 263.70 L493.83 263.70 L494.06 263.70 L494.30 263.70 L494.53 263.70 L494.76 263.70 L495.00 263.70 L495.23 263.70 L495.46 263.69 L495.70 263.69 L495.93 263.69 L496.16 263.68 L496.40 263.67 L496.63 263.66 L496.86 263.64 L497.10 263.61 L497.33 263.58 L497.56 263.54 L497.80 263.47 L498.03 263.39 L498.27 263.29 L498.50 263.14 L498.73 262.96 L498.97 262.72 L499.20 262.41 L499.43 262.02 L499.67 261.52 L499.90 260.89 L500.13 260.11 L500.37 259.15 L500.60 257.97 L500.83 256.53 L501.07 254.80 L501.30 252.72 L501.53 250.25 L501.77 247.34 L502.00 243.95 L502.23 240.02 L502.47 235.51 L502.70 230.37 L502.94 224.58 L503.17 218.10 L503.40 210.92 L503.64 203.04 L503.87 194.48 L504.10 185.26 L504.34 175.45 L504.57 165.10 L504.80 154.31 L505.04 143.20 L505.27 131.90 L505.50 120.54 L505.74 109.31 L505.97 98.36 L506.20 87.88 L506.44 78.06 L506.67 69.07 L506.90 61.07 L507.14 54.23 L507.37 48.69 L507.61 44.55 L507.84 41.90 L508.07 40.80 L508.31 41.28 L508.54 43.31 L508.77 46.86 L509.01 51.85 L509.24 58.19 L509.47 65.74 L509.71 74.35 L509.94 83.87 L510.17 94.10 L510.41 104.88 L510.64 116.03 L510.87 127.35 L511.11 138.69 L511.34 149.90 L511.57 160.83 L511.81 171.37 L512.04 181.41 L512.28 190.87 L512.51 199.70 L512.74 207.85 L512.98 215.31 L513.21 222.07 L513.44 228.13 L513.68 233.53 L513.91 238.29 L514.14 242.45 L514.38 246.05 L514.61 249.14 L514.84 251.78 L515.08 254.01 L515.31 255.87 L515.54 257.43 L515.78 258.71 L516.01 259.75 L516.25 260.60 L516.48 261.29 L516.71 261.83 L516.95 262.26 L517.18 262.60 L517.41 262.87 L517.65 263.08 L517.88 263.23 L518.11 263.35 L518.35 263.45 L518.58 263.51 L518.81 263.56 L519.05 263.60 L519.28 263.63 L519.51 263.65 L519.75 263.66 L519.98 263.68 L520.21 263.68 L520.45 263.69 L520.68 263.69 L520.91 263.69 L521.15 263.70 L521.38 263.70 L521.62 263.70 L521.85 263.70 L522.08 263.70 L522.32 263.70 L522.55 263.70 L522.78 263.70 L523.02 263.70 L523.25 263.70 L523.48 263.70 L523.72 263.70 L523.95 263.70 L524.18 263.70 L524.42 263.70 L524.65 263.70 L524.88 263.70 L525.12 263.70 L525.35 263.70 L525.58 263.70 L525.82 263.70 L526.05 263.70 L526.29 263.70 L526.52 263.70 L526.75 263.70 L526.99 263.70 L527.22 263.70 L527.45 263.70 L527.69 263.70 L527.92 263.70 L528.15 263.70 L528.39 263.70 L528.62 263.70 L528.85 263.70 L529.09 263.70 L529.32 263.70 L529.55 263.70 L529.79 263.70 L530.02 263.70 L530.25 263.70 L530.49 263.70 L530.72 263.70 L530.96 263.70 L531.19 263.70 L531.42 263.70 L531.66 263.70 L531.89 263.70 L532.12 263.70 L532.36 263.70 L532.59 263.70 L532.82 263.70 L533.06 263.70 L533.29 263.70 L533.52 263.70 L533.76 263.70 L533.99 263.70 L534.22 263.70 L534.46 263.70 L534.69 263.70 L534.92 263.70 L535.16 263.70 L535.39 263.70 L535.63 263.70 L535.86 263.70 L536.09 263.70 L536.33 263.70 L536.56 263.70 L536.79 263.70 L537.03 263.70 L537.26 263.70 L537.49 263.70 L537.73 263.70 L537.96 263.70 L538.19 263.70 L538.43 263.70 L538.66 263.70 L538.89 263.70 L539.13 263.70 L539.36 263.70 L539.60 263.70 L539.83 263.70 L540.06 263.70 L540.30 263.70 L540.53 263.70 L540.76 263.70 L541.00 263.70 L541.23 263.70 L541.46 263.70 L541.70 263.70 L541.93 263.70 L542.16 263.70 L542.40 263.70 L542.63 263.70 L542.86 263.70 L543.10 263.70 L543.33 263.70 L543.56 263.70 L543.80 263.70 L544.03 263.70 L544.26 263.70 L544.50 263.70 L544.73 263.70 L544.97 263.70 L545.20 263.70 L545.43 263.70 L545.67 263.70 L545.90 263.70 L546.13 263.70 L546.37 263.70 L546.60 263.70 L546.83 263.70 L547.07 263.70 L547.30 263.70 L547.53 263.70 L547.77 263.70 L548.00 263.70 L548.23 263.70 L548.47 263.70 L548.70 263.70 L548.93 263.70 L549.17 263.70 L549.40 263.70 L549.64 263.70 L549.87 263.70 L550.10 263.70 L550.34 263.70 L550.57 263.70 L550.80 263.70 L551.04 263.70 L551.27 263.70 L551.50 263.70 L551.74 263.70 L551.97 263.70 L552.20 263.70 L552.44 263.70 L552.67 263.70 L552.90 263.70 L553.14 263.70 L553.37 263.70 L553.61 263.70 L553.84 263.70 L554.07 263.70 L554.31 263.70 L554.54 263.70 L554.77 263.70 L555.01 263.70 L555.24 263.70 L555.47 263.70 L555.71 263.70 L555.94 263.70 L556.17 263.70 L556.41 263.70 L556.64 263.70 L556.87 263.70 L557.11 263.70 L557.34 263.70 L557.57 263.70 L557.81 263.70 L558.04 263.70 L558.27 263.70 L558.51 263.70 L558.74 263.70 L558.98 263.70 L559.21 263.70 L559.44 263.70 L559.68 263.70 L559.91 263.70 L560.14 263.70 L560.38 263.70 L560.61 263.70 L560.84 263.70 L561.08 263.70 L561.31 263.70 L561.54 263.70 L561.78 263.70 L562.01 263.70 L562.24 263.70 L562.48 263.70 L562.71 263.70 L562.94 263.70 L563.18 263.70 L563.41 263.70 L563.65 263.70 L563.88 263.70 L564.11 263.70 L564.35 263.70 L564.58 263.70 L564.81 263.70 L565.05 263.70 L565.28 263.70 L565.51 263.70 L565.75 263.70 L565.98 263.70 L566.21 263.70 L566.45 263.70 L566.68 263.70 L566.91 263.70 L567.15 263.70 L567.38 263.70 L567.62 263.70 L567.85 263.70 L568.08 263.70 L568.32 263.70 L568.55 263.70 L568.78 263.70 L569.02 263.70 L569.25 263.70 L569.48 263.70 L569.72 263.70 L569.95 263.70 L570.18 263.70 L570.42 263.70 L570.65 263.70 L570.88 263.70 L571.12 263.70 L571.35 263.70 L571.58 263.70 L571.82 263.70 L572.05 263.70 L572.28 263.70 L572.52 263.70 L572.75 263.70 L572.99 263.70 L573.22 263.70 L573.45 263.70 L573.69 263.70 L573.92 263.70 L574.15 263.70 L574.39 263.70 L574.62 263.70 L574.85 263.70 L575.09 263.70 L575.32 263.70 L575.55 263.70 L575.79 263.70 L576.02 263.70 L576.25 263.70 L576.49 263.70 L576.72 263.70 L576.95 263.70 L577.19 263.70 L577.42 263.70 L577.66 263.70 L577.89 263.70 L578.12 263.70 L578.36 263.70 L578.59 263.70 L578.82 263.70 L579.06 263.70 L579.29 263.70 L579.52 263.70 L579.76 263.70 L579.99 263.70 L580.22 263.70 L580.46 263.70 L580.69 263.70 L580.92 263.70 L581.16 263.70 L581.39 263.70 L581.62 263.70 L581.86 263.70 L582.09 263.70 L582.33 263.70 L582.56 263.70 L582.79 263.70 L583.03 263.70 L583.26 263.70 L583.49 263.70 L583.73 263.70 L583.96 263.70 L584.19 263.70 L584.43 263.70 L584.66 263.70 L584.89 263.70 L585.13 263.70 L585.36 263.70 L585.59 263.70 L585.83 263.70 L586.06 263.70 L586.29 263.70 L586.53 263.70 L586.76 263.70 L587.00 263.70 L587.23 263.70 L587.46 263.70 L587.70 263.70 L587.93 263.70 L588.16 263.70 L588.40 263.70 L588.63 263.70 L588.86 263.70 L589.10 263.70 L589.33 263.70 L589.56 263.70 L589.80 263.70 L590.03 263.70 L590.26 263.70 L590.50 263.70 L590.73 263.70 L590.96 263.70 L591.20 263.70 L591.43 263.70 L591.67 263.70 L591.90 263.70 L592.13 263.70 L592.37 263.70 L592.60 263.70 L592.83 263.70 L593.07 263.70 L593.30 263.70" fill="none" stroke="#f01010" stroke-width="1.85" stroke-dasharray="6.00 5.77"/><g font-size="12" fill="#111"><text x="356.50" y="264.30" text-anchor="end">0.000</text><text x="356.50" y="217.14" text-anchor="end">0.005</text><text x="356.50" y="166.08" text-anchor="end">0.010</text><text x="356.50" y="115.02" text-anchor="end">0.015</text><text x="356.50" y="63.96" text-anchor="end">0.020</text><text x="356.50" y="15.90" text-anchor="end">0.025</text><text x="382.85" y="279.30" text-anchor="middle">-200</text><text x="429.55" y="279.30" text-anchor="middle">-100</text><text x="476.95" y="279.30" text-anchor="middle">0</text><text x="523.65" y="279.30" text-anchor="middle">100</text><text x="570.35" y="279.30" text-anchor="middle">200</text><text x="445.75" y="292.6" font-size="12">V<tspan font-size="7.6" dy="3.2" stroke="#111" stroke-width="0.25">GSR</tspan><tspan dy="-3.2" dx="-1.1"> [km/s]</tspan></text><text transform="translate(315.70 161.20) rotate(-90)" font-size="12">dN/dV<tspan font-size="7.6" dy="3.0" stroke="#111" stroke-width="0.25">GSR</tspan></text><text x="378.00" y="29.7" letter-spacing="0.25">On PAndAS Stream</text><text x="378.00" y="44.3" letter-spacing="0.25">N = 44</text></g>
</svg>
</body></html>
